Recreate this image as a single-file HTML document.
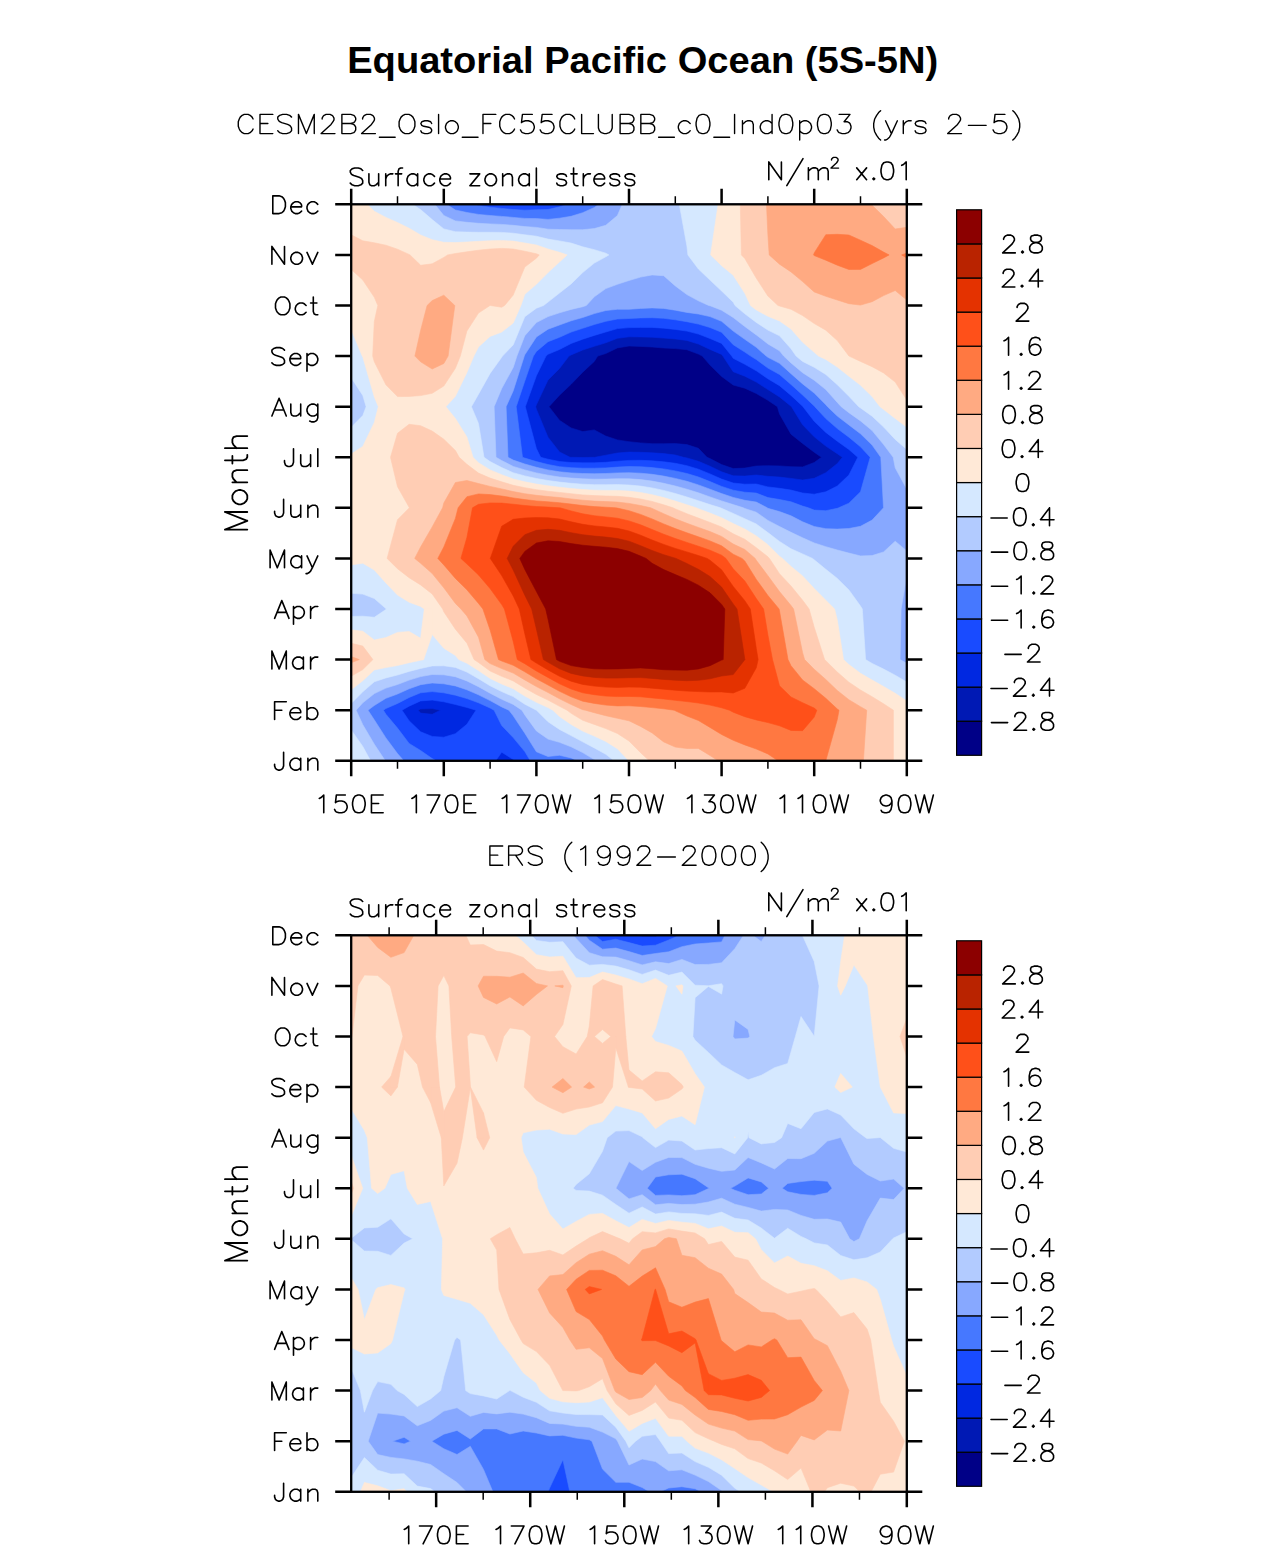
<!DOCTYPE html>
<html><head><meta charset="utf-8"><title>Equatorial Pacific Ocean (5S-5N)</title>
<style>html,body{margin:0;padding:0;background:#fff}svg{display:block}text{font-family:"Liberation Sans",sans-serif}</style></head><body>
<svg width="1285" height="1550" viewBox="0 0 1285 1550">
<rect width="1285" height="1550" fill="#fff"/>
<text x="642.7" y="72.8" text-anchor="middle" font-weight="bold" font-size="36px" textLength="591" lengthAdjust="spacingAndGlyphs">Equatorial Pacific Ocean (5S-5N)</text>
<g>
<rect x="351.20" y="204.30" width="555.60" height="556.50" fill="#000087"/>
<path d="M351.2 760.8L362.8 760.8L374.3 760.8L385.9 760.8L397.5 760.8L409.1 760.8L420.6 760.8L432.2 760.8L443.8 760.8L455.4 760.8L466.9 760.8L478.5 760.8L490.1 760.8L501.7 760.8L513.2 760.8L524.8 760.8L536.4 760.8L548.0 760.8L559.5 760.8L571.1 760.8L582.7 760.8L594.3 760.8L605.8 760.8L617.4 760.8L629.0 760.8L640.6 760.8L652.1 760.8L663.7 760.8L675.3 760.8L686.9 760.8L698.4 760.8L710.0 760.8L721.6 760.8L733.2 760.8L744.8 760.8L756.3 760.8L767.9 760.8L779.5 760.8L791.0 760.8L802.6 760.8L814.2 760.8L825.8 760.8L837.3 760.8L848.9 760.8L860.5 760.8L872.1 760.8L883.6 760.8L895.2 760.8L906.8 760.8L906.8 710.2L906.8 659.6L906.8 609.0L906.8 558.4L906.8 507.8L906.8 457.3L906.8 406.7L906.8 356.1L906.8 305.5L906.8 254.9L906.8 204.3L895.2 204.3L883.6 204.3L872.1 204.3L860.5 204.3L848.9 204.3L837.3 204.3L825.8 204.3L814.2 204.3L802.6 204.3L791.0 204.3L779.5 204.3L767.9 204.3L756.3 204.3L744.8 204.3L733.2 204.3L721.6 204.3L710.0 204.3L698.4 204.3L686.9 204.3L675.3 204.3L663.7 204.3L652.1 204.3L640.6 204.3L629.0 204.3L617.4 204.3L605.8 204.3L594.3 204.3L582.7 204.3L571.1 204.3L559.5 204.3L548.0 204.3L536.4 204.3L524.8 204.3L513.2 204.3L501.7 204.3L490.1 204.3L478.5 204.3L466.9 204.3L455.4 204.3L443.8 204.3L432.2 204.3L420.6 204.3L409.1 204.3L397.5 204.3L385.9 204.3L374.3 204.3L362.8 204.3L351.2 204.3L351.2 254.9L351.2 305.5L351.2 356.1L351.2 406.7L351.2 457.3L351.2 507.8L351.2 558.4L351.2 609.0L351.2 659.6L351.2 710.2ZM710.0 458.6L707.0 457.3L698.4 448.3L686.9 444.6L675.3 443.6L663.7 443.7L652.1 443.7L640.6 442.9L629.0 441.7L617.4 439.9L605.8 436.1L594.3 429.9L582.7 431.6L571.1 427.9L559.5 420.3L549.0 406.7L559.5 395.2L571.1 384.3L582.7 372.2L594.3 361.4L597.7 356.1L605.8 353.5L617.4 347.9L629.0 346.0L640.6 346.4L652.1 347.0L663.7 348.0L675.3 348.6L686.9 349.7L698.4 354.1L702.3 356.1L710.0 365.1L721.6 376.4L733.2 385.0L744.8 388.2L756.3 393.5L767.9 400.3L777.4 406.7L779.5 413.9L791.0 434.2L802.6 443.4L814.2 452.2L821.5 457.3L814.2 462.5L802.6 466.9L791.0 466.7L779.5 465.9L767.9 465.7L756.3 466.0L744.8 468.1L733.2 468.6L721.6 464.6Z" fill="#0019b4" stroke="#0019b4" stroke-width="0.6" stroke-linejoin="round" fill-rule="evenodd"/>
<path d="M351.2 760.8L362.8 760.8L374.3 760.8L385.9 760.8L397.5 760.8L409.1 760.8L420.6 760.8L432.2 760.8L443.8 760.8L455.4 760.8L466.9 760.8L478.5 760.8L490.1 760.8L501.7 760.8L513.2 760.8L524.8 760.8L536.4 760.8L548.0 760.8L559.5 760.8L571.1 760.8L582.7 760.8L594.3 760.8L605.8 760.8L617.4 760.8L629.0 760.8L640.6 760.8L652.1 760.8L663.7 760.8L675.3 760.8L686.9 760.8L698.4 760.8L710.0 760.8L721.6 760.8L733.2 760.8L744.8 760.8L756.3 760.8L767.9 760.8L779.5 760.8L791.0 760.8L802.6 760.8L814.2 760.8L825.8 760.8L837.3 760.8L848.9 760.8L860.5 760.8L872.1 760.8L883.6 760.8L895.2 760.8L906.8 760.8L906.8 710.2L906.8 659.6L906.8 609.0L906.8 558.4L906.8 507.8L906.8 457.3L906.8 406.7L906.8 356.1L906.8 305.5L906.8 254.9L906.8 204.3L895.2 204.3L883.6 204.3L872.1 204.3L860.5 204.3L848.9 204.3L837.3 204.3L825.8 204.3L814.2 204.3L802.6 204.3L791.0 204.3L779.5 204.3L767.9 204.3L756.3 204.3L744.8 204.3L733.2 204.3L721.6 204.3L710.0 204.3L698.4 204.3L686.9 204.3L675.3 204.3L663.7 204.3L652.1 204.3L640.6 204.3L629.0 204.3L617.4 204.3L605.8 204.3L594.3 204.3L582.7 204.3L571.1 204.3L559.5 204.3L548.0 204.3L536.4 204.3L524.8 204.3L513.2 204.3L501.7 204.3L490.1 204.3L478.5 204.3L466.9 204.3L455.4 204.3L443.8 204.3L432.2 204.3L420.6 204.3L409.1 204.3L397.5 204.3L385.9 204.3L374.3 204.3L362.8 204.3L351.2 204.3L351.2 254.9L351.2 305.5L351.2 356.1L351.2 406.7L351.2 457.3L351.2 507.8L351.2 558.4L351.2 609.0L351.2 659.6L351.2 710.2ZM420.6 713.1L418.1 710.2L420.6 709.0L432.2 708.6L440.5 710.2L432.2 714.3ZM571.1 457.3L570.1 457.3L559.5 451.9L548.0 437.2L536.4 409.2L535.7 406.7L536.4 404.8L548.0 380.0L559.5 368.5L569.0 356.1L571.1 354.9L582.7 350.0L594.3 346.3L605.8 342.8L617.4 338.3L629.0 336.8L640.6 336.9L652.1 337.2L663.7 338.1L675.3 339.0L686.9 340.4L698.5 344.1L710.0 349.4L721.6 354.4L722.9 356.1L733.2 371.7L744.8 376.2L756.3 382.1L767.9 389.6L779.5 396.9L791.0 406.2L791.5 406.7L802.6 424.8L814.2 436.8L825.8 446.1L837.3 453.7L842.4 457.3L837.3 463.6L825.8 472.7L814.2 478.3L802.6 480.0L791.0 478.4L779.5 477.1L767.9 476.3L756.3 475.0L744.8 476.1L733.2 475.8L721.6 471.8L710.0 466.2L698.4 461.3L686.9 457.9L683.5 457.3L675.3 455.0L663.7 453.6L652.1 452.8L640.6 452.3L629.0 452.1L617.4 453.0L605.8 455.2L594.9 457.3L594.3 457.3L582.7 457.5Z" fill="#0028e1" stroke="#0028e1" stroke-width="0.6" stroke-linejoin="round" fill-rule="evenodd"/>
<path d="M351.2 760.8L362.8 760.8L374.3 760.8L385.9 760.8L397.5 760.8L409.1 760.8L420.6 760.8L432.2 760.8L443.8 760.8L455.4 760.8L466.9 760.8L478.5 760.8L490.1 760.8L495.7 760.8L501.7 752.2L513.2 759.5L514.5 760.8L524.8 760.8L536.4 760.8L548.0 760.8L559.5 760.8L571.1 760.8L582.7 760.8L594.3 760.8L605.8 760.8L617.4 760.8L629.0 760.8L640.6 760.8L652.1 760.8L663.7 760.8L675.3 760.8L686.9 760.8L698.4 760.8L710.0 760.8L721.6 760.8L733.2 760.8L744.8 760.8L756.3 760.8L767.9 760.8L779.5 760.8L791.0 760.8L802.6 760.8L814.2 760.8L825.8 760.8L837.3 760.8L848.9 760.8L860.5 760.8L872.1 760.8L883.6 760.8L895.2 760.8L906.8 760.8L906.8 710.2L906.8 659.6L906.8 609.0L906.8 558.4L906.8 507.8L906.8 457.3L906.8 406.7L906.8 356.1L906.8 305.5L906.8 254.9L906.8 204.3L895.2 204.3L883.6 204.3L872.1 204.3L860.5 204.3L848.9 204.3L837.3 204.3L825.8 204.3L814.2 204.3L802.6 204.3L791.0 204.3L779.5 204.3L767.9 204.3L756.3 204.3L744.8 204.3L733.2 204.3L721.6 204.3L710.0 204.3L698.4 204.3L686.9 204.3L675.3 204.3L663.7 204.3L652.1 204.3L640.6 204.3L629.0 204.3L617.4 204.3L605.8 204.3L594.3 204.3L582.7 204.3L571.1 204.3L559.5 204.3L548.0 204.3L536.4 204.3L524.8 204.3L513.2 204.3L501.7 204.3L490.1 204.3L478.5 204.3L466.9 204.3L455.4 204.3L443.8 204.3L432.2 204.3L420.6 204.3L409.1 204.3L397.5 204.3L385.9 204.3L374.3 204.3L362.8 204.3L351.2 204.3L351.2 254.9L351.2 305.5L351.2 356.1L351.2 406.7L351.2 457.3L351.2 507.8L351.2 558.4L351.2 609.0L351.2 659.6L351.2 710.2ZM409.1 720.7L402.0 710.2L409.1 706.2L420.6 700.9L432.2 700.1L443.8 701.8L455.4 704.5L467.0 707.5L476.0 710.2L466.9 724.3L455.4 733.7L443.8 737.2L432.2 736.4L420.6 731.8ZM548.0 459.2L540.7 457.3L536.4 448.6L525.3 406.7L536.4 375.8L546.0 356.1L548.0 354.3L559.5 349.5L571.1 343.5L582.7 339.2L594.3 335.4L605.8 332.0L617.4 328.6L629.0 327.6L640.6 327.4L652.1 327.4L663.7 328.2L675.3 329.4L686.9 331.1L698.5 334.1L710.0 338.5L721.6 343.4L731.7 356.1L733.2 358.3L744.8 364.3L756.3 370.8L767.9 378.8L779.5 385.7L791.0 395.4L802.6 406.3L803.0 406.7L814.2 421.3L825.8 432.4L837.3 441.2L848.9 449.5L857.8 457.3L848.9 475.0L837.3 486.0L825.8 491.8L814.2 494.2L802.6 493.0L791.0 490.1L779.5 488.3L767.9 486.9L756.3 484.0L744.8 484.2L733.2 483.0L721.6 479.1L710.0 473.9L698.4 469.2L686.9 465.7L675.3 463.3L663.7 461.8L652.1 460.8L640.6 460.3L629.0 460.4L617.4 461.2L605.8 462.3L594.3 462.8L582.7 462.8L571.1 462.5L559.5 461.5Z" fill="#194bff" stroke="#194bff" stroke-width="0.6" stroke-linejoin="round" fill-rule="evenodd"/>
<path d="M351.2 760.8L362.8 760.8L374.3 760.8L385.9 760.8L397.5 760.8L409.1 760.8L420.6 760.8L432.2 760.8L436.3 760.8L432.2 758.6L420.6 750.5L409.1 743.4L397.5 728.1L385.9 714.2L383.4 710.2L385.9 708.5L397.5 703.5L409.1 697.5L420.6 692.8L432.2 691.6L443.8 692.8L455.4 695.2L467.0 698.6L478.5 702.8L490.1 708.0L494.1 710.2L501.7 725.5L513.2 737.6L524.8 751.6L530.3 760.8L536.4 760.8L548.0 760.8L559.5 760.8L571.1 760.8L582.7 760.8L594.3 760.8L605.8 760.8L617.4 760.8L629.0 760.8L640.6 760.8L652.1 760.8L663.7 760.8L675.3 760.8L686.9 760.8L698.4 760.8L710.0 760.8L721.6 760.8L733.2 760.8L744.8 760.8L756.3 760.8L767.9 760.8L779.5 760.8L791.0 760.8L802.6 760.8L814.2 760.8L825.8 760.8L837.3 760.8L848.9 760.8L860.5 760.8L872.1 760.8L883.6 760.8L895.2 760.8L906.8 760.8L906.8 710.2L906.8 659.6L906.8 609.0L906.8 558.4L906.8 507.8L906.8 457.3L906.8 406.7L906.8 356.1L906.8 305.5L906.8 254.9L906.8 204.3L895.2 204.3L883.6 204.3L872.1 204.3L860.5 204.3L848.9 204.3L837.3 204.3L825.8 204.3L814.2 204.3L802.6 204.3L791.0 204.3L779.5 204.3L767.9 204.3L756.3 204.3L744.8 204.3L733.2 204.3L721.6 204.3L710.0 204.3L698.4 204.3L686.9 204.3L675.3 204.3L663.7 204.3L652.1 204.3L640.6 204.3L629.0 204.3L617.4 204.3L605.8 204.3L594.3 204.3L582.7 204.3L571.1 204.3L567.5 204.3L559.6 206.8L548.0 209.5L536.4 209.8L524.8 210.2L513.2 209.5L501.7 208.4L490.1 207.2L478.5 205.4L473.6 204.3L466.9 204.3L455.4 204.3L443.8 204.3L432.2 204.3L420.6 204.3L409.1 204.3L397.5 204.3L385.9 204.3L374.3 204.3L362.8 204.3L351.2 204.3L351.2 254.9L351.2 305.5L351.2 356.1L351.2 406.7L351.2 457.3L351.2 507.8L351.2 558.4L351.2 609.0L351.2 659.6L351.2 710.2ZM814.2 510.1L808.4 507.8L802.6 506.1L791.0 501.8L779.5 499.5L767.9 497.6L756.3 493.1L744.8 492.2L733.2 490.2L721.6 486.4L710.0 481.6L698.5 477.0L686.9 473.5L675.3 470.9L663.7 468.9L652.1 467.6L640.6 466.7L629.0 466.5L617.4 467.1L605.8 467.9L594.3 468.2L582.7 468.2L571.1 467.7L559.5 466.7L548.0 464.5L536.4 461.6L524.8 458.1L522.5 457.3L516.2 406.7L524.8 381.1L533.4 356.1L536.4 351.5L548.0 341.7L559.5 337.3L571.1 332.1L582.7 328.3L594.3 324.5L605.8 321.3L617.4 319.0L629.0 318.5L640.6 317.9L652.1 317.7L663.7 318.3L675.3 319.8L686.9 321.7L698.4 324.1L710.0 327.5L721.6 332.3L733.2 344.7L744.8 352.1L750.7 356.1L756.3 359.5L767.9 368.1L779.5 374.5L791.0 384.5L802.6 395.1L814.2 406.0L814.8 406.7L825.8 418.6L837.3 428.6L848.9 437.2L860.5 446.8L870.2 457.3L860.5 491.8L848.9 503.2L838.6 507.8L837.3 508.3L825.8 510.7Z" fill="#4678ff" stroke="#4678ff" stroke-width="0.6" stroke-linejoin="round" fill-rule="evenodd"/>
<path d="M351.2 760.8L362.8 760.8L374.3 760.8L385.9 760.8L397.5 760.8L403.8 760.8L397.5 753.6L385.9 737.9L374.4 720.0L368.0 710.2L374.3 705.5L385.9 698.3L397.5 694.0L409.1 688.8L420.6 684.7L432.2 683.0L443.8 683.8L455.4 685.9L466.9 689.8L478.5 694.8L490.1 700.6L501.7 706.9L508.9 710.2L513.2 715.8L524.8 733.2L536.4 751.8L548.0 756.5L559.5 755.3L571.1 757.9L577.2 760.8L582.7 760.8L594.3 760.8L605.8 760.8L617.4 760.8L629.0 760.8L640.6 760.8L652.1 760.8L663.7 760.8L675.3 760.8L686.9 760.8L698.4 760.8L710.0 760.8L721.6 760.8L733.2 760.8L744.8 760.8L756.3 760.8L767.9 760.8L779.5 760.8L791.0 760.8L802.6 760.8L814.2 760.8L825.8 760.8L837.3 760.8L848.9 760.8L860.5 760.8L872.1 760.8L883.6 760.8L895.2 760.8L906.8 760.8L906.8 710.2L906.8 659.6L906.8 609.0L906.8 558.4L906.8 507.8L906.8 457.3L906.8 406.7L906.8 356.1L906.8 305.5L906.8 254.9L906.8 204.3L895.2 204.3L883.6 204.3L872.1 204.3L860.5 204.3L848.9 204.3L837.3 204.3L825.8 204.3L814.2 204.3L802.6 204.3L791.0 204.3L779.5 204.3L767.9 204.3L756.3 204.3L744.8 204.3L733.2 204.3L721.6 204.3L710.0 204.3L698.4 204.3L686.9 204.3L675.3 204.3L663.7 204.3L652.1 204.3L640.6 204.3L629.0 204.3L617.4 204.3L605.8 204.3L598.7 204.3L594.3 207.5L582.7 212.7L571.1 216.3L559.5 218.2L548.0 219.4L536.4 218.6L524.8 218.4L513.2 217.4L501.7 216.4L490.1 215.5L478.5 214.4L467.0 212.5L455.4 210.0L446.6 204.3L443.8 204.3L432.2 204.3L420.6 204.3L409.1 204.3L397.5 204.3L385.9 204.3L374.3 204.3L362.8 204.3L351.2 204.3L351.2 254.9L351.2 305.5L351.2 356.1L351.2 406.7L351.2 457.3L351.2 507.8L351.2 558.4L351.2 609.0L351.2 659.6L351.2 710.2ZM767.9 508.3L767.3 507.8L756.3 502.1L744.8 500.3L733.2 497.4L721.6 493.6L710.0 489.2L698.4 484.9L686.9 481.3L675.3 478.4L663.7 476.1L652.1 474.3L640.6 473.2L629.0 472.7L617.4 472.9L605.8 473.5L594.3 473.7L582.7 473.5L571.1 472.9L559.5 471.8L548.0 469.9L536.4 467.3L524.8 464.0L513.2 460.1L508.0 457.3L506.1 406.7L513.2 390.9L524.3 356.1L524.8 354.8L536.4 337.0L548.0 329.2L559.5 325.0L571.1 320.8L582.7 317.5L594.3 313.6L605.8 310.5L617.4 309.3L629.0 309.3L640.6 308.4L652.1 307.9L663.7 308.4L675.3 310.2L686.9 312.4L698.4 314.0L710.0 316.6L721.6 321.3L733.2 331.1L744.8 339.3L756.3 347.3L766.2 356.1L767.9 357.3L779.5 363.3L791.0 373.7L802.6 383.9L814.2 393.1L825.8 404.7L827.5 406.7L837.3 416.1L848.9 424.9L860.5 433.8L872.1 445.1L880.8 457.3L883.5 507.8L872.1 520.1L860.5 526.3L848.9 528.5L837.3 529.1L825.8 528.7L814.2 526.5L802.6 521.8L791.0 515.8L779.5 511.6Z" fill="#87a8ff" stroke="#87a8ff" stroke-width="0.6" stroke-linejoin="round" fill-rule="evenodd"/>
<path d="M351.2 760.8L362.8 760.8L374.3 760.8L385.3 760.8L374.3 744.2L362.8 724.7L356.1 710.2L362.8 702.8L374.4 693.6L385.9 688.1L397.5 684.5L409.1 680.1L420.6 676.6L432.2 674.5L443.8 674.8L455.4 676.7L466.9 680.9L478.5 686.7L490.1 693.2L501.7 699.3L513.2 704.4L521.9 710.2L524.8 714.9L536.4 730.9L548.0 739.1L559.5 742.3L571.1 746.8L582.7 752.6L594.3 759.6L596.2 760.8L605.8 760.8L617.4 760.8L629.0 760.8L640.6 760.8L652.1 760.8L663.7 760.8L675.3 760.8L686.9 760.8L698.4 760.8L710.0 760.8L721.6 760.8L733.2 760.8L744.8 760.8L756.3 760.8L767.9 760.8L779.5 760.8L791.0 760.8L802.6 760.8L814.2 760.8L825.8 760.8L837.3 760.8L848.9 760.8L860.5 760.8L872.1 760.8L883.6 760.8L895.2 760.8L906.8 760.8L906.8 710.2L906.8 663.3L900.0 659.6L901.1 609.0L906.8 575.9L906.8 558.4L906.8 550.9L895.2 541.2L883.6 551.9L872.1 555.6L860.5 555.9L848.9 553.1L837.3 550.0L825.8 546.7L814.2 542.9L802.6 537.8L791.0 532.3L779.5 526.5L767.9 520.4L756.3 512.2L744.8 508.5L743.4 507.8L733.2 504.6L721.6 500.9L710.0 496.9L698.4 492.8L686.9 489.2L675.3 486.0L663.7 483.3L652.1 481.1L640.6 479.6L629.0 478.8L617.4 478.7L605.8 479.1L594.3 479.2L582.7 478.8L571.1 478.1L559.5 477.0L548.0 475.2L536.4 472.9L524.8 469.9L513.2 466.4L501.7 460.5L496.0 457.3L494.1 406.7L501.7 388.5L513.2 367.5L516.9 356.1L524.8 335.7L536.4 322.6L548.0 316.6L559.5 312.8L571.1 309.4L582.7 306.7L586.3 305.5L594.3 296.8L605.8 288.6L617.4 284.3L629.0 280.5L640.6 277.1L652.1 274.9L663.7 275.7L675.3 285.9L686.9 294.6L698.4 300.8L708.7 305.5L710.0 305.7L721.6 310.2L733.2 317.5L744.8 326.5L756.3 334.9L767.9 343.9L779.5 350.8L783.7 356.1L791.0 362.9L802.6 372.7L814.2 380.2L825.8 389.6L837.3 402.4L841.2 406.7L848.9 412.7L860.5 420.9L872.1 430.6L883.6 444.5L893.2 457.3L895.2 467.8L906.8 489.2L906.8 457.3L906.8 406.7L906.8 356.1L906.8 305.5L906.8 254.9L906.8 204.3L895.2 204.3L883.6 204.3L872.1 204.3L860.5 204.3L848.9 204.3L837.3 204.3L825.8 204.3L814.2 204.3L802.6 204.3L791.0 204.3L779.5 204.3L767.9 204.3L756.3 204.3L744.8 204.3L733.2 204.3L721.6 204.3L710.0 204.3L698.4 204.3L686.9 204.3L675.3 204.3L663.7 204.3L652.1 204.3L640.6 204.3L629.0 204.3L622.3 204.3L617.4 215.6L605.8 225.3L594.3 228.6L582.7 229.7L571.1 229.7L559.5 229.5L548.0 229.2L536.4 227.4L524.8 226.6L513.2 225.3L501.7 224.4L490.1 223.9L478.5 223.3L466.9 222.3L455.4 220.9L443.8 215.5L434.8 204.3L432.2 204.3L420.6 204.3L409.1 204.3L397.5 204.3L385.9 204.3L374.3 204.3L362.8 204.3L351.2 204.3L351.2 254.9L351.2 305.5L351.2 356.1L351.2 406.7L351.2 457.3L351.2 507.8L351.2 558.4L351.2 609.0L351.2 659.6L351.2 710.2Z" fill="#b2cbff" stroke="#b2cbff" stroke-width="0.6" stroke-linejoin="round" fill-rule="evenodd"/>
<path d="M351.2 760.8L362.8 760.8L370.6 760.8L362.8 746.5L351.2 729.9ZM536.5 710.2L548.0 721.7L559.5 729.4L571.1 735.6L582.7 741.8L594.3 747.9L605.8 754.3L614.1 760.8L617.4 760.8L629.0 760.8L640.6 760.8L652.1 760.8L663.7 760.8L675.3 760.8L686.9 760.8L698.4 760.8L710.0 760.8L721.6 760.8L733.2 760.8L744.8 760.8L756.3 760.8L767.9 760.8L779.5 760.8L791.0 760.8L802.6 760.8L814.2 760.8L825.8 760.8L837.3 760.8L848.9 760.8L860.5 760.8L872.1 760.8L883.6 760.8L895.2 760.8L906.8 760.8L906.8 710.2L906.8 682.1L895.2 675.2L883.6 669.1L872.1 663.4L865.6 659.6L862.3 609.0L860.5 606.1L848.9 589.9L837.3 578.4L825.8 569.3L814.2 559.8L812.5 558.4L802.6 553.9L791.0 548.8L779.5 541.4L767.9 532.6L756.3 524.0L744.8 518.7L733.2 513.4L721.6 508.3L720.5 507.8L710.0 504.6L698.4 500.7L686.9 497.0L675.3 493.5L663.7 490.4L652.1 487.9L640.6 486.1L629.0 485.0L617.4 484.6L605.8 484.7L594.3 484.7L582.7 484.2L571.1 483.3L559.5 482.1L548.0 480.5L536.4 478.5L524.8 475.9L513.2 472.7L501.7 467.6L490.1 461.6L484.0 457.3L478.5 423.5L471.4 406.7L478.5 394.2L490.1 373.4L501.7 357.3L502.5 356.1L513.2 344.9L524.8 316.7L536.4 308.2L543.6 305.5L548.0 302.1L559.5 293.0L571.1 283.9L582.7 272.6L594.3 263.1L605.8 256.8L608.9 254.9L605.8 253.2L594.3 249.7L582.7 246.8L571.1 243.1L559.5 240.9L548.0 239.1L536.4 236.2L524.8 234.8L513.2 233.2L501.7 232.4L490.1 232.3L478.5 232.3L466.9 232.1L455.4 231.7L443.8 228.9L432.2 219.6L420.6 209.6L412.6 204.3L409.1 204.3L397.5 204.3L385.9 204.3L374.3 204.3L362.8 204.3L351.2 204.3L351.2 254.9L351.2 305.5L351.2 356.1L351.2 377.7L362.8 395.5L366.1 406.7L362.8 415.6L351.2 427.3L351.2 457.3L351.2 507.8L351.2 558.4L351.2 593.3L362.8 594.1L374.3 598.5L385.9 608.6L386.3 609.0L385.9 609.5L374.3 617.3L362.8 616.2L351.2 616.5L351.2 659.6L351.2 703.4L362.8 691.8L374.3 681.8L385.9 677.9L397.5 675.0L409.1 671.4L420.6 668.5L432.2 665.9L443.8 665.8L455.4 667.4L466.9 672.1L478.5 678.7L490.1 685.8L501.7 691.6L513.2 696.6L524.8 704.2L536.4 710.2ZM858.7 406.7L860.5 407.9L872.1 416.2L883.6 427.0L895.2 439.4L906.8 449.4L906.8 406.7L906.8 356.1L906.8 305.5L906.8 254.9L906.8 204.3L895.2 204.3L883.6 204.3L872.1 204.3L860.5 204.3L848.9 204.3L837.3 204.3L825.8 204.3L814.2 204.3L802.6 204.3L791.0 204.3L779.5 204.3L767.9 204.3L756.3 204.3L744.8 204.3L733.2 204.3L721.6 204.3L710.0 204.3L698.4 204.3L686.9 204.3L679.3 204.3L686.9 246.0L687.9 254.9L698.4 269.0L710.0 280.1L721.6 291.0L733.2 302.2L735.0 305.5L744.8 313.8L756.3 322.4L767.9 330.1L779.5 335.8L791.0 348.7L796.1 356.1L802.6 361.4L814.2 367.3L825.8 374.5L837.3 384.7L848.9 396.3Z" fill="#d5e8ff" stroke="#d5e8ff" stroke-width="0.6" stroke-linejoin="round" fill-rule="evenodd"/>
<path d="M552.8 710.2L559.5 716.5L571.1 724.4L582.7 731.1L594.3 736.1L605.8 741.4L617.4 748.7L628.8 760.8L629.0 760.8L640.6 760.8L652.1 760.8L663.7 760.8L675.3 760.8L686.9 760.8L698.4 760.8L710.0 760.8L721.6 760.8L733.2 760.8L744.8 760.8L756.3 760.8L767.9 760.8L779.5 760.8L791.0 760.8L802.6 760.8L814.2 760.8L825.8 760.8L837.3 760.8L848.9 760.8L860.5 760.8L872.1 760.8L883.6 760.8L895.2 760.8L906.8 760.8L906.8 710.2L906.8 700.9L895.2 693.3L883.6 686.5L872.1 680.0L860.5 673.3L848.9 664.6L843.5 659.6L837.3 620.0L834.6 609.0L825.8 600.2L814.2 588.5L802.6 575.9L791.1 566.5L782.5 558.4L779.5 556.3L767.9 544.7L756.3 535.9L744.8 529.0L733.2 523.6L721.6 517.7L710.0 513.1L698.4 508.7L696.2 507.8L686.9 504.8L675.3 501.1L663.7 497.6L652.1 494.7L640.6 492.5L629.0 491.1L617.4 490.4L605.8 490.4L594.3 490.2L582.7 489.5L571.1 488.5L559.5 487.2L548.0 485.8L536.4 484.1L524.8 481.8L513.2 479.0L501.7 474.7L490.1 469.9L478.5 462.7L473.0 457.3L466.9 437.0L455.4 418.5L445.9 406.7L455.4 396.3L466.9 372.5L473.9 356.1L478.5 346.9L490.1 336.4L501.7 332.1L513.2 323.1L520.9 305.5L524.8 294.3L536.4 284.3L548.0 272.6L559.5 262.0L567.2 254.9L559.5 252.3L548.0 249.0L536.4 245.0L524.8 243.0L513.2 241.1L501.7 240.4L490.1 240.7L478.5 241.3L466.9 242.0L455.4 242.6L443.8 242.3L432.2 239.7L420.6 235.0L409.1 228.2L397.5 222.5L385.9 217.4L374.3 211.3L367.2 204.3L362.8 204.3L351.2 204.3L351.2 254.9L351.2 305.5L351.2 329.4L362.2 356.1L362.8 356.9L374.3 396.9L378.3 406.7L374.3 422.4L362.8 446.4L351.2 454.0L351.2 457.3L351.2 507.8L351.2 558.4L351.2 564.9L362.8 563.2L374.3 570.0L385.9 582.9L397.5 595.1L409.1 602.2L420.6 606.4L424.3 609.0L432.2 634.5L443.8 648.2L455.4 655.4L458.7 659.6L466.9 663.2L478.5 670.6L490.1 678.4L501.7 684.0L513.2 688.7L524.8 696.1L536.4 702.3L548.0 707.6ZM351.2 659.6L351.2 689.8L362.8 680.7L374.3 669.9L385.9 667.6L397.5 665.5L409.1 662.7L420.6 660.3L423.6 659.6L420.6 638.2L409.1 631.5L397.5 632.4L385.9 637.6L374.3 640.0L362.8 631.2L351.2 629.8ZM880.0 406.7L883.6 409.4L895.2 418.4L906.8 427.2L906.8 406.7L906.8 356.1L906.8 305.5L906.8 254.9L906.8 204.3L895.2 204.3L883.6 204.3L872.1 204.3L860.5 204.3L848.9 204.3L837.3 204.3L825.8 204.3L814.2 204.3L802.6 204.3L791.0 204.3L779.5 204.3L767.9 204.3L756.3 204.3L744.8 204.3L733.2 204.3L721.6 204.3L718.1 204.3L710.6 254.9L721.6 265.7L733.2 275.2L744.8 293.3L750.5 305.5L756.3 309.9L767.9 316.3L779.5 320.9L791.0 329.0L802.6 342.2L814.2 352.3L818.5 356.1L825.8 359.4L837.3 367.1L848.9 376.2L860.5 385.2L872.1 396.5Z" fill="#ffe9d7" stroke="#ffe9d7" stroke-width="0.6" stroke-linejoin="round" fill-rule="evenodd"/>
<path d="M420.6 659.6L423.6 659.6L432.2 634.5L432.2 609.0L424.3 609.0L420.6 638.2Z" fill="#ffe9d7" stroke="#ffe9d7" stroke-width="0.6" stroke-linejoin="round"/>
<path d="M567.1 710.2L571.1 713.3L582.7 720.3L594.3 724.4L605.8 728.6L617.4 733.5L629.0 741.0L640.6 752.7L649.3 760.8L652.1 760.8L663.7 760.8L675.3 760.8L686.9 760.8L698.4 760.8L710.0 760.8L721.6 760.8L733.2 760.8L744.8 760.8L756.3 760.8L767.9 760.8L779.5 760.8L791.0 760.8L802.6 760.8L814.2 760.8L825.8 760.8L837.3 760.8L848.9 760.8L860.5 760.8L872.1 760.8L883.6 760.8L893.4 760.8L893.4 710.2L883.6 703.8L872.1 696.7L860.5 690.0L848.9 682.2L837.3 672.1L825.8 660.7L824.6 659.6L814.2 627.2L809.1 609.0L802.6 600.2L791.0 586.0L779.5 573.7L769.4 558.4L767.9 556.8L756.3 547.7L744.8 539.3L733.2 533.8L721.6 527.0L710.0 522.4L698.4 518.1L686.9 513.7L675.3 508.9L673.0 507.8L663.7 504.8L652.1 501.4L640.6 499.0L629.0 497.3L617.4 496.3L605.8 496.0L594.3 495.6L582.7 494.9L571.1 493.7L559.5 492.4L548.0 491.2L536.4 489.7L524.8 487.7L513.2 485.3L501.7 481.8L490.1 478.1L478.5 473.1L466.9 464.3L459.2 457.3L455.4 450.5L443.8 439.2L432.2 431.1L420.6 425.7L409.1 424.3L397.5 433.3L390.5 457.3L397.5 486.7L409.1 507.3L409.3 507.8L409.1 508.1L397.5 519.7L387.1 558.4L397.5 568.7L409.1 577.7L420.6 584.9L432.2 594.0L442.7 609.0L443.8 611.8L455.4 629.2L467.0 643.3L474.1 659.6L478.5 662.5L490.1 671.0L501.7 676.3L513.2 680.9L524.8 688.0L536.4 694.5L548.0 700.1L559.5 706.3ZM351.2 659.6L351.2 676.2L362.8 669.6L372.9 659.6L362.8 646.1L351.2 643.2ZM372.7 356.1L374.3 361.7L385.9 384.8L397.5 396.6L409.1 396.4L420.6 395.6L432.2 393.3L443.8 386.0L455.4 368.3L460.3 356.1L466.9 331.0L478.5 313.1L490.0 305.5L490.1 305.4L490.3 305.5L501.7 307.2L504.6 305.5L513.2 295.1L524.8 267.1L536.4 258.2L539.2 254.9L536.4 253.8L524.8 251.2L513.2 249.0L501.7 248.4L490.1 249.0L478.5 250.2L466.9 251.8L455.4 253.5L447.7 254.9L443.8 257.4L432.2 263.8L420.7 265.3L410.0 254.9L409.1 254.4L397.5 249.2L385.9 245.2L374.3 242.8L362.8 240.8L351.2 234.8L351.2 254.9L351.2 269.4L362.8 280.0L374.3 297.3L377.8 305.5L374.3 321.5ZM849.0 356.1L860.5 361.4L872.1 366.7L883.6 373.0L895.2 382.1L906.8 400.1L906.8 356.1L906.8 305.5L906.8 254.9L906.8 204.3L895.2 204.3L883.6 204.3L872.1 204.3L860.5 204.3L848.9 204.3L837.3 204.3L825.8 204.3L814.2 204.3L802.6 204.3L791.0 204.3L779.5 204.3L767.9 204.3L756.3 204.3L744.8 204.3L740.3 204.3L741.4 254.9L744.8 258.5L756.3 278.2L767.9 296.1L778.0 305.5L779.5 306.0L791.0 309.3L802.6 315.6L814.2 323.5L825.8 330.2L837.3 340.6L848.9 356.0Z" fill="#ffcdb4" stroke="#ffcdb4" stroke-width="0.6" stroke-linejoin="round" fill-rule="evenodd"/>
<path d="M585.3 710.2L594.3 712.7L605.8 715.7L617.4 718.3L629.0 720.8L640.6 726.4L652.1 732.9L663.7 741.9L675.3 747.1L686.9 748.5L698.4 748.4L710.0 755.5L718.2 760.8L721.6 760.8L733.2 760.8L744.8 760.8L756.3 760.8L767.9 760.8L779.5 760.8L791.0 760.8L802.6 760.8L814.2 760.8L825.8 760.8L837.3 760.8L848.9 760.8L860.5 760.8L863.4 760.8L866.7 710.2L860.5 706.7L848.9 699.7L837.3 690.5L825.8 679.5L814.2 669.2L804.6 659.6L802.6 652.7L793.6 609.0L791.0 605.5L779.5 591.6L767.9 575.7L756.3 560.3L755.2 558.4L744.8 549.5L733.2 544.0L721.6 536.4L710.0 531.6L698.4 527.4L686.9 523.3L675.3 518.8L663.7 513.7L652.1 508.4L650.7 507.8L640.6 505.5L629.0 503.4L617.4 502.1L605.8 501.6L594.3 501.1L582.7 500.2L571.1 498.9L559.5 497.5L548.0 496.5L536.4 495.3L524.8 493.7L513.2 491.6L501.7 488.9L490.1 486.4L478.5 483.5L466.9 480.5L455.4 482.5L443.8 503.0L442.6 507.8L432.2 526.9L420.6 547.0L414.7 558.4L420.6 563.3L432.2 573.5L443.8 587.8L455.4 603.4L460.9 609.0L466.9 615.9L478.5 637.2L484.8 659.6L490.1 663.6L501.7 668.6L513.2 673.1L524.8 679.9L536.4 686.6L548.0 692.5L559.5 698.8L571.1 704.5L582.7 709.7ZM351.2 659.6L351.2 662.7L359.3 659.6L351.2 656.6ZM414.9 356.1L420.6 361.8L432.2 369.0L443.8 363.5L448.1 356.1L454.8 305.5L443.8 295.2L432.2 300.6L427.1 305.5L420.6 330.5ZM769.2 254.9L779.5 264.2L791.0 271.9L802.6 281.6L814.2 291.9L825.8 296.3L837.3 300.0L848.9 303.7L860.5 305.1L872.1 301.7L883.6 295.6L895.2 290.5L906.8 300.0L906.8 254.9L906.8 227.3L895.2 229.0L883.6 216.5L872.1 205.2L863.1 204.3L860.5 204.3L848.9 204.3L837.3 204.3L825.8 204.3L814.2 204.3L802.6 204.3L791.0 204.3L779.5 204.3L767.9 204.3L766.5 204.3L767.9 234.8Z" fill="#ffaa82" stroke="#ffaa82" stroke-width="0.6" stroke-linejoin="round" fill-rule="evenodd"/>
<path d="M674.2 710.2L675.3 710.8L686.9 716.0L698.4 720.5L710.0 727.4L721.6 734.5L733.2 740.3L744.8 744.9L756.3 749.0L767.9 753.9L778.0 760.8L779.5 760.8L791.0 760.8L802.6 760.8L814.2 760.8L825.7 760.8L825.8 760.7L837.3 719.6L839.0 710.2L837.3 709.0L825.8 698.3L814.2 688.7L802.6 680.0L791.0 665.7L788.0 659.6L779.5 611.1L779.1 609.0L767.9 595.5L756.3 579.4L744.8 561.0L742.0 558.4L733.2 554.2L721.6 545.8L710.0 540.9L698.4 536.8L686.9 532.8L675.3 528.6L663.7 523.9L652.1 518.9L640.6 514.4L629.0 510.7L617.4 508.1L615.6 507.8L605.8 507.2L594.3 506.6L582.7 505.5L571.1 504.1L559.5 502.7L548.0 501.8L536.4 500.9L524.8 499.6L513.2 497.9L501.7 496.0L490.1 494.6L478.5 493.9L466.9 496.7L458.1 507.8L455.4 518.4L443.8 546.9L437.8 558.4L443.8 564.9L455.4 578.4L466.9 589.8L478.5 603.4L482.9 609.0L490.1 630.0L498.5 659.6L501.7 661.0L513.2 665.3L524.8 671.8L536.4 678.8L548.0 685.0L559.5 691.3L571.1 696.8L582.7 701.2L594.3 703.4L605.8 705.1L617.4 705.9L629.0 705.8L640.6 706.5L652.1 707.6L663.7 708.8ZM813.5 254.9L814.2 255.6L825.8 260.2L837.3 265.2L848.9 269.5L860.5 269.4L872.1 263.6L883.6 257.9L889.1 254.9L883.6 252.1L872.1 245.6L860.5 240.2L848.9 235.0L837.3 234.3L825.8 234.7L814.2 252.9ZM901.6 254.9L906.8 257.9L906.8 254.9L906.8 253.1Z" fill="#ff7841" stroke="#ff7841" stroke-width="0.6" stroke-linejoin="round" fill-rule="evenodd"/>
<path d="M729.5 710.2L733.2 712.2L744.8 716.7L756.3 719.9L767.9 722.6L779.5 725.8L791.0 730.4L802.6 730.7L814.2 717.1L816.8 710.2L814.2 708.1L802.6 702.7L791.0 697.0L779.5 685.8L772.5 659.6L767.9 635.0L763.6 609.0L756.3 598.6L744.8 580.9L733.2 568.8L725.9 558.4L721.6 555.2L710.0 550.2L698.4 546.2L686.9 542.4L675.3 538.5L663.7 534.2L652.1 529.5L640.6 524.8L629.0 520.9L617.4 518.2L605.8 516.9L594.3 515.7L582.7 513.8L571.1 510.9L560.0 507.8L559.5 507.8L548.0 507.1L536.4 506.5L524.8 505.5L513.2 504.2L501.7 503.1L490.1 502.9L478.5 504.3L472.5 507.8L466.9 537.5L460.9 558.4L467.0 564.1L478.5 574.9L490.1 588.6L501.7 604.6L504.4 609.0L513.2 641.4L517.3 659.6L524.8 663.7L536.4 671.0L548.0 677.4L559.5 683.8L571.1 689.0L582.7 692.8L594.3 694.7L605.8 696.1L617.4 696.6L629.0 696.4L640.6 696.8L652.1 697.9L663.7 699.0L675.3 700.3L686.9 701.6L698.4 703.0L710.0 705.1L721.6 707.8Z" fill="#ff5019" stroke="#ff5019" stroke-width="0.6" stroke-linejoin="round" fill-rule="evenodd"/>
<path d="M530.9 659.6L536.4 663.1L548.0 669.9L559.5 676.3L571.1 681.2L582.7 684.4L594.3 686.1L605.8 687.1L617.4 687.4L629.0 687.1L640.6 687.2L652.1 688.2L663.7 689.2L675.3 690.2L686.9 691.1L698.4 691.6L710.0 692.0L721.6 691.9L733.2 693.0L744.8 688.3L756.3 667.7L758.1 659.6L756.3 648.6L750.3 609.0L744.8 600.7L733.2 586.4L721.6 569.8L710.0 560.2L707.1 558.4L698.4 555.5L686.9 551.9L675.3 548.4L663.7 544.4L652.1 540.0L640.6 535.2L629.0 531.0L617.4 528.3L605.8 527.0L594.3 525.9L582.7 524.3L571.1 521.8L559.5 519.0L548.0 517.8L536.4 517.6L524.8 518.0L513.2 519.3L501.7 526.2L490.3 558.4L501.7 575.6L513.2 595.9L519.3 609.0L524.8 633.7Z" fill="#e43200" stroke="#e43200" stroke-width="0.6" stroke-linejoin="round" fill-rule="evenodd"/>
<path d="M543.4 659.6L548.0 662.3L559.5 668.8L571.1 673.4L582.7 675.9L594.3 677.4L605.8 678.1L617.4 678.1L629.0 677.7L640.6 677.6L652.1 678.4L663.7 679.4L675.3 680.2L686.9 680.7L698.4 680.3L710.0 678.8L721.6 676.0L733.2 674.6L744.8 659.7L744.8 659.6L744.8 659.3L737.0 609.0L733.2 603.9L721.6 587.1L710.0 576.5L698.4 569.3L686.9 563.5L676.0 558.4L675.3 558.2L663.7 554.7L652.1 550.5L640.6 545.7L629.0 541.2L617.4 538.5L605.8 537.1L594.3 536.1L582.7 534.7L571.1 532.7L559.5 530.3L548.0 529.3L536.4 530.3L524.8 534.7L513.2 546.3L507.2 558.4L513.2 570.0L524.8 595.2L531.7 609.0L536.4 629.0Z" fill="#b92300" stroke="#b92300" stroke-width="0.6" stroke-linejoin="round" fill-rule="evenodd"/>
<path d="M556.5 659.6L559.5 661.3L571.1 665.6L582.7 667.5L594.3 668.8L605.8 669.1L617.4 668.9L629.0 668.4L640.6 667.9L652.1 668.7L663.7 669.7L675.3 670.1L686.9 670.2L698.5 668.9L710.0 665.7L721.6 660.1L723.2 659.6L724.8 609.0L721.6 604.4L710.0 592.8L698.4 585.2L686.9 579.4L675.3 574.6L663.7 569.6L652.1 563.3L646.1 558.4L640.6 556.1L629.0 551.3L617.4 548.6L605.8 547.2L594.3 546.3L582.7 545.2L571.1 543.6L559.5 541.5L548.0 540.8L536.4 543.0L524.8 551.4L519.8 558.4L524.8 569.4L536.4 591.5L545.7 609.0L548.0 619.0Z" fill="#8c0000" stroke="#8c0000" stroke-width="0.6" stroke-linejoin="round" fill-rule="evenodd"/>
</g>
<rect x="351.20" y="204.30" width="555.60" height="556.50" fill="none" stroke="#000" stroke-width="2.30"/>
<path transform="translate(317.80 770.10)" d="M-34.20 -17.75L-34.20 -4.22L-35.10 -1.69L-36.00 -0.84L-37.80 0.00L-39.60 0.00L-41.40 -0.84L-42.30 -1.69L-43.20 -4.22L-43.20 -5.92M-17.10 -11.83L-17.10 0.00M-17.10 -9.29L-18.90 -10.98L-20.70 -11.83L-23.40 -11.83L-25.20 -10.98L-27.00 -9.29L-27.90 -6.76L-27.90 -5.07L-27.00 -2.54L-25.20 -0.84L-23.40 0.00L-20.70 0.00L-18.90 -0.84L-17.10 -2.54M-9.90 -11.83L-9.90 0.00M-9.90 -8.45L-7.20 -10.98L-5.40 -11.83L-2.70 -11.83L-0.90 -10.98L0.00 -8.45L0.00 0.00" fill="none" stroke="#000" stroke-width="1.60" stroke-linecap="round" stroke-linejoin="round"/>
<path transform="translate(317.80 719.51)" d="M-43.20 -17.75L-43.20 0.00M-43.20 -17.75L-31.50 -17.75M-43.20 -9.29L-36.00 -9.29M-27.90 -6.76L-17.10 -6.76L-17.10 -8.45L-18.00 -10.14L-18.90 -10.98L-20.70 -11.83L-23.40 -11.83L-25.20 -10.98L-27.00 -9.29L-27.90 -6.76L-27.90 -5.07L-27.00 -2.54L-25.20 -0.84L-23.40 0.00L-20.70 0.00L-18.90 -0.84L-17.10 -2.54M-10.80 -17.75L-10.80 0.00M-10.80 -9.29L-9.00 -10.98L-7.20 -11.83L-4.50 -11.83L-2.70 -10.98L-0.90 -9.29L0.00 -6.76L0.00 -5.07L-0.90 -2.54L-2.70 -0.84L-4.50 0.00L-7.20 0.00L-9.00 -0.84L-10.80 -2.54" fill="none" stroke="#000" stroke-width="1.60" stroke-linecap="round" stroke-linejoin="round"/>
<path transform="translate(317.80 668.92)" d="M-45.90 -17.75L-45.90 0.00M-45.90 -17.75L-38.70 0.00M-31.50 -17.75L-38.70 0.00M-31.50 -17.75L-31.50 0.00M-14.40 -11.83L-14.40 0.00M-14.40 -9.29L-16.20 -10.98L-18.00 -11.83L-20.70 -11.83L-22.50 -10.98L-24.30 -9.29L-25.20 -6.76L-25.20 -5.07L-24.30 -2.54L-22.50 -0.84L-20.70 0.00L-18.00 0.00L-16.20 -0.84L-14.40 -2.54M-7.20 -11.83L-7.20 0.00M-7.20 -6.76L-6.30 -9.29L-4.50 -10.98L-2.70 -11.83L0.00 -11.83" fill="none" stroke="#000" stroke-width="1.60" stroke-linecap="round" stroke-linejoin="round"/>
<path transform="translate(317.80 618.33)" d="M-36.00 -17.75L-43.20 0.00M-36.00 -17.75L-28.80 0.00M-40.50 -5.92L-31.50 -5.92M-24.30 -11.83L-24.30 5.92M-24.30 -9.29L-22.50 -10.98L-20.70 -11.83L-18.00 -11.83L-16.20 -10.98L-14.40 -9.29L-13.50 -6.76L-13.50 -5.07L-14.40 -2.54L-16.20 -0.84L-18.00 0.00L-20.70 0.00L-22.50 -0.84L-24.30 -2.54M-7.20 -11.83L-7.20 0.00M-7.20 -6.76L-6.30 -9.29L-4.50 -10.98L-2.70 -11.83L0.00 -11.83" fill="none" stroke="#000" stroke-width="1.60" stroke-linecap="round" stroke-linejoin="round"/>
<path transform="translate(317.80 567.74)" d="M-47.70 -17.75L-47.70 0.00M-47.70 -17.75L-40.50 0.00M-33.30 -17.75L-40.50 0.00M-33.30 -17.75L-33.30 0.00M-16.20 -11.83L-16.20 0.00M-16.20 -9.29L-18.00 -10.98L-19.80 -11.83L-22.50 -11.83L-24.30 -10.98L-26.10 -9.29L-27.00 -6.76L-27.00 -5.07L-26.10 -2.54L-24.30 -0.84L-22.50 0.00L-19.80 0.00L-18.00 -0.84L-16.20 -2.54M-10.80 -11.83L-5.40 0.00M0.00 -11.83L-5.40 0.00L-7.20 3.38L-9.00 5.07L-10.80 5.92L-11.70 5.92" fill="none" stroke="#000" stroke-width="1.60" stroke-linecap="round" stroke-linejoin="round"/>
<path transform="translate(317.80 517.15)" d="M-34.20 -17.75L-34.20 -4.22L-35.10 -1.69L-36.00 -0.84L-37.80 0.00L-39.60 0.00L-41.40 -0.84L-42.30 -1.69L-43.20 -4.22L-43.20 -5.92M-27.00 -11.83L-27.00 -3.38L-26.10 -0.84L-24.30 0.00L-21.60 0.00L-19.80 -0.84L-17.10 -3.38M-17.10 -11.83L-17.10 0.00M-9.90 -11.83L-9.90 0.00M-9.90 -8.45L-7.20 -10.98L-5.40 -11.83L-2.70 -11.83L-0.90 -10.98L0.00 -8.45L0.00 0.00" fill="none" stroke="#000" stroke-width="1.60" stroke-linecap="round" stroke-linejoin="round"/>
<path transform="translate(317.80 466.55)" d="M-24.30 -17.75L-24.30 -4.22L-25.20 -1.69L-26.10 -0.84L-27.90 0.00L-29.70 0.00L-31.50 -0.84L-32.40 -1.69L-33.30 -4.22L-33.30 -5.92M-17.10 -11.83L-17.10 -3.38L-16.20 -0.84L-14.40 0.00L-11.70 0.00L-9.90 -0.84L-7.20 -3.38M-7.20 -11.83L-7.20 0.00M0.00 -17.75L0.00 0.00" fill="none" stroke="#000" stroke-width="1.60" stroke-linecap="round" stroke-linejoin="round"/>
<path transform="translate(317.80 415.96)" d="M-38.70 -17.75L-45.90 0.00M-38.70 -17.75L-31.50 0.00M-43.20 -5.92L-34.20 -5.92M-27.00 -11.83L-27.00 -3.38L-26.10 -0.84L-24.30 0.00L-21.60 0.00L-19.80 -0.84L-17.10 -3.38M-17.10 -11.83L-17.10 0.00M0.00 -11.83L0.00 1.69L-0.90 4.22L-1.80 5.07L-3.60 5.92L-6.30 5.92L-8.10 5.07M0.00 -9.29L-1.80 -10.98L-3.60 -11.83L-6.30 -11.83L-8.10 -10.98L-9.90 -9.29L-10.80 -6.76L-10.80 -5.07L-9.90 -2.54L-8.10 -0.84L-6.30 0.00L-3.60 0.00L-1.80 -0.84L0.00 -2.54" fill="none" stroke="#000" stroke-width="1.60" stroke-linecap="round" stroke-linejoin="round"/>
<path transform="translate(317.80 365.37)" d="M-33.30 -15.21L-35.10 -16.90L-37.80 -17.75L-41.40 -17.75L-44.10 -16.90L-45.90 -15.21L-45.90 -13.52L-45.00 -11.83L-44.10 -10.98L-42.30 -10.14L-36.90 -8.45L-35.10 -7.60L-34.20 -6.76L-33.30 -5.07L-33.30 -2.54L-35.10 -0.84L-37.80 0.00L-41.40 0.00L-44.10 -0.84L-45.90 -2.54M-27.90 -6.76L-17.10 -6.76L-17.10 -8.45L-18.00 -10.14L-18.90 -10.98L-20.70 -11.83L-23.40 -11.83L-25.20 -10.98L-27.00 -9.29L-27.90 -6.76L-27.90 -5.07L-27.00 -2.54L-25.20 -0.84L-23.40 0.00L-20.70 0.00L-18.90 -0.84L-17.10 -2.54M-10.80 -11.83L-10.80 5.92M-10.80 -9.29L-9.00 -10.98L-7.20 -11.83L-4.50 -11.83L-2.70 -10.98L-0.90 -9.29L-0.00 -6.76L-0.00 -5.07L-0.90 -2.54L-2.70 -0.84L-4.50 0.00L-7.20 0.00L-9.00 -0.84L-10.80 -2.54" fill="none" stroke="#000" stroke-width="1.60" stroke-linecap="round" stroke-linejoin="round"/>
<path transform="translate(317.80 314.78)" d="M-36.90 -17.75L-38.70 -16.90L-40.50 -15.21L-41.40 -13.52L-42.30 -10.98L-42.30 -6.76L-41.40 -4.22L-40.50 -2.54L-38.70 -0.84L-36.90 0.00L-33.30 0.00L-31.50 -0.84L-29.70 -2.54L-28.80 -4.22L-27.90 -6.76L-27.90 -10.98L-28.80 -13.52L-29.70 -15.21L-31.50 -16.90L-33.30 -17.75L-36.90 -17.75M-11.70 -9.29L-13.50 -10.98L-15.30 -11.83L-18.00 -11.83L-19.80 -10.98L-21.60 -9.29L-22.50 -6.76L-22.50 -5.07L-21.60 -2.54L-19.80 -0.84L-18.00 0.00L-15.30 0.00L-13.50 -0.84L-11.70 -2.54M-4.50 -17.75L-4.50 -3.38L-3.60 -0.84L-1.80 0.00L0.00 0.00M-7.20 -11.83L-0.90 -11.83" fill="none" stroke="#000" stroke-width="1.60" stroke-linecap="round" stroke-linejoin="round"/>
<path transform="translate(317.80 264.19)" d="M-45.90 -17.75L-45.90 0.00M-45.90 -17.75L-33.30 0.00M-33.30 -17.75L-33.30 0.00M-22.50 -11.83L-24.30 -10.98L-26.10 -9.29L-27.00 -6.76L-27.00 -5.07L-26.10 -2.54L-24.30 -0.84L-22.50 0.00L-19.80 0.00L-18.00 -0.84L-16.20 -2.54L-15.30 -5.07L-15.30 -6.76L-16.20 -9.29L-18.00 -10.98L-19.80 -11.83L-22.50 -11.83M-10.80 -11.83L-5.40 0.00M0.00 -11.83L-5.40 0.00" fill="none" stroke="#000" stroke-width="1.60" stroke-linecap="round" stroke-linejoin="round"/>
<path transform="translate(317.80 213.60)" d="M-45.00 -17.75L-45.00 0.00M-45.00 -17.75L-38.70 -17.75L-36.00 -16.90L-34.20 -15.21L-33.30 -13.52L-32.40 -10.98L-32.40 -6.76L-33.30 -4.22L-34.20 -2.54L-36.00 -0.84L-38.70 0.00L-45.00 0.00M-27.00 -6.76L-16.20 -6.76L-16.20 -8.45L-17.10 -10.14L-18.00 -10.98L-19.80 -11.83L-22.50 -11.83L-24.30 -10.98L-26.10 -9.29L-27.00 -6.76L-27.00 -5.07L-26.10 -2.54L-24.30 -0.84L-22.50 0.00L-19.80 0.00L-18.00 -0.84L-16.20 -2.54M-0.00 -9.29L-1.80 -10.98L-3.60 -11.83L-6.30 -11.83L-8.10 -10.98L-9.90 -9.29L-10.80 -6.76L-10.80 -5.07L-9.90 -2.54L-8.10 -0.84L-6.30 0.00L-3.60 0.00L-1.80 -0.84L-0.00 -2.54" fill="none" stroke="#000" stroke-width="1.60" stroke-linecap="round" stroke-linejoin="round"/>
<path d="M335.20 760.80 H351.20M906.80 760.80 H922.30M335.20 710.21 H351.20M906.80 710.21 H922.30M335.20 659.62 H351.20M906.80 659.62 H922.30M335.20 609.03 H351.20M906.80 609.03 H922.30M335.20 558.44 H351.20M906.80 558.44 H922.30M335.20 507.85 H351.20M906.80 507.85 H922.30M335.20 457.25 H351.20M906.80 457.25 H922.30M335.20 406.66 H351.20M906.80 406.66 H922.30M335.20 356.07 H351.20M906.80 356.07 H922.30M335.20 305.48 H351.20M906.80 305.48 H922.30M335.20 254.89 H351.20M906.80 254.89 H922.30M335.20 204.30 H351.20M906.80 204.30 H922.30M351.20 204.30 V188.80M351.20 760.80 V776.30M443.80 204.30 V188.80M443.80 760.80 V776.30M536.40 204.30 V188.80M536.40 760.80 V776.30M629.00 204.30 V188.80M629.00 760.80 V776.30M721.60 204.30 V188.80M721.60 760.80 V776.30M814.20 204.30 V188.80M814.20 760.80 V776.30M906.80 204.30 V188.80M906.80 760.80 V776.30" stroke="#000" stroke-width="2.50" fill="none"/>
<path d="M397.50 204.30 V196.30M397.50 760.80 V768.80M490.10 204.30 V196.30M490.10 760.80 V768.80M582.70 204.30 V196.30M582.70 760.80 V768.80M675.30 204.30 V196.30M675.30 760.80 V768.80M767.90 204.30 V196.30M767.90 760.80 V768.80M860.50 204.30 V196.30M860.50 760.80 V768.80" stroke="#000" stroke-width="1.5" fill="none"/>
<path transform="translate(351.20 812.80)" d="M-31.95 -14.37L-30.15 -15.21L-27.45 -17.75L-27.45 0.00M-5.85 -17.75L-14.85 -17.75L-15.75 -10.14L-14.85 -10.98L-12.15 -11.83L-9.45 -11.83L-6.75 -10.98L-4.95 -9.29L-4.05 -6.76L-4.05 -5.07L-4.95 -2.54L-6.75 -0.84L-9.45 0.00L-12.15 0.00L-14.85 -0.84L-15.75 -1.69L-16.65 -3.38M6.75 -17.75L4.05 -16.90L2.25 -14.37L1.35 -10.14L1.35 -7.60L2.25 -3.38L4.05 -0.84L6.75 0.00L8.55 0.00L11.25 -0.84L13.05 -3.38L13.95 -7.60L13.95 -10.14L13.05 -14.37L11.25 -16.90L8.55 -17.75L6.75 -17.75M20.25 -17.75L20.25 0.00M20.25 -17.75L31.95 -17.75M20.25 -9.29L27.45 -9.29M20.25 0.00L31.95 0.00" fill="none" stroke="#000" stroke-width="1.60" stroke-linecap="round" stroke-linejoin="round"/>
<path transform="translate(443.80 812.80)" d="M-31.95 -14.37L-30.15 -15.21L-27.45 -17.75L-27.45 0.00M-4.05 -17.75L-13.05 0.00M-16.65 -17.75L-4.05 -17.75M6.75 -17.75L4.05 -16.90L2.25 -14.37L1.35 -10.14L1.35 -7.60L2.25 -3.38L4.05 -0.84L6.75 0.00L8.55 0.00L11.25 -0.84L13.05 -3.38L13.95 -7.60L13.95 -10.14L13.05 -14.37L11.25 -16.90L8.55 -17.75L6.75 -17.75M20.25 -17.75L20.25 0.00M20.25 -17.75L31.95 -17.75M20.25 -9.29L27.45 -9.29M20.25 0.00L31.95 0.00" fill="none" stroke="#000" stroke-width="1.60" stroke-linecap="round" stroke-linejoin="round"/>
<path transform="translate(536.40 812.80)" d="M-34.20 -14.37L-32.40 -15.21L-29.70 -17.75L-29.70 0.00M-6.30 -17.75L-15.30 0.00M-18.90 -17.75L-6.30 -17.75M4.50 -17.75L1.80 -16.90L0.00 -14.37L-0.90 -10.14L-0.90 -7.60L0.00 -3.38L1.80 -0.84L4.50 0.00L6.30 0.00L9.00 -0.84L10.80 -3.38L11.70 -7.60L11.70 -10.14L10.80 -14.37L9.00 -16.90L6.30 -17.75L4.50 -17.75M16.20 -17.75L20.70 0.00M25.20 -17.75L20.70 0.00M25.20 -17.75L29.70 0.00M34.20 -17.75L29.70 0.00" fill="none" stroke="#000" stroke-width="1.60" stroke-linecap="round" stroke-linejoin="round"/>
<path transform="translate(629.00 812.80)" d="M-34.20 -14.37L-32.40 -15.21L-29.70 -17.75L-29.70 0.00M-8.10 -17.75L-17.10 -17.75L-18.00 -10.14L-17.10 -10.98L-14.40 -11.83L-11.70 -11.83L-9.00 -10.98L-7.20 -9.29L-6.30 -6.76L-6.30 -5.07L-7.20 -2.54L-9.00 -0.84L-11.70 0.00L-14.40 0.00L-17.10 -0.84L-18.00 -1.69L-18.90 -3.38M4.50 -17.75L1.80 -16.90L0.00 -14.37L-0.90 -10.14L-0.90 -7.60L0.00 -3.38L1.80 -0.84L4.50 0.00L6.30 0.00L9.00 -0.84L10.80 -3.38L11.70 -7.60L11.70 -10.14L10.80 -14.37L9.00 -16.90L6.30 -17.75L4.50 -17.75M16.20 -17.75L20.70 0.00M25.20 -17.75L20.70 0.00M25.20 -17.75L29.70 0.00M34.20 -17.75L29.70 0.00" fill="none" stroke="#000" stroke-width="1.60" stroke-linecap="round" stroke-linejoin="round"/>
<path transform="translate(721.60 812.80)" d="M-34.20 -14.37L-32.40 -15.21L-29.70 -17.75L-29.70 0.00M-17.10 -17.75L-7.20 -17.75L-12.60 -10.98L-9.90 -10.98L-8.10 -10.14L-7.20 -9.29L-6.30 -6.76L-6.30 -5.07L-7.20 -2.54L-9.00 -0.84L-11.70 0.00L-14.40 0.00L-17.10 -0.84L-18.00 -1.69L-18.90 -3.38M4.50 -17.75L1.80 -16.90L0.00 -14.37L-0.90 -10.14L-0.90 -7.60L0.00 -3.38L1.80 -0.84L4.50 0.00L6.30 0.00L9.00 -0.84L10.80 -3.38L11.70 -7.60L11.70 -10.14L10.80 -14.37L9.00 -16.90L6.30 -17.75L4.50 -17.75M16.20 -17.75L20.70 0.00M25.20 -17.75L20.70 0.00M25.20 -17.75L29.70 0.00M34.20 -17.75L29.70 0.00" fill="none" stroke="#000" stroke-width="1.60" stroke-linecap="round" stroke-linejoin="round"/>
<path transform="translate(814.20 812.80)" d="M-34.20 -14.37L-32.40 -15.21L-29.70 -17.75L-29.70 0.00M-16.20 -14.37L-14.40 -15.21L-11.70 -17.75L-11.70 0.00M4.50 -17.75L1.80 -16.90L0.00 -14.37L-0.90 -10.14L-0.90 -7.60L0.00 -3.38L1.80 -0.84L4.50 0.00L6.30 0.00L9.00 -0.84L10.80 -3.38L11.70 -7.60L11.70 -10.14L10.80 -14.37L9.00 -16.90L6.30 -17.75L4.50 -17.75M16.20 -17.75L20.70 0.00M25.20 -17.75L20.70 0.00M25.20 -17.75L29.70 0.00M34.20 -17.75L29.70 0.00" fill="none" stroke="#000" stroke-width="1.60" stroke-linecap="round" stroke-linejoin="round"/>
<path transform="translate(906.80 812.80)" d="M-14.85 -11.83L-15.75 -9.29L-17.55 -7.60L-20.25 -6.76L-21.15 -6.76L-23.85 -7.60L-25.65 -9.29L-26.55 -11.83L-26.55 -12.67L-25.65 -15.21L-23.85 -16.90L-21.15 -17.75L-20.25 -17.75L-17.55 -16.90L-15.75 -15.21L-14.85 -11.83L-14.85 -7.60L-15.75 -3.38L-17.55 -0.84L-20.25 0.00L-22.05 0.00L-24.75 -0.84L-25.65 -2.54M-3.15 -17.75L-5.85 -16.90L-7.65 -14.37L-8.55 -10.14L-8.55 -7.60L-7.65 -3.38L-5.85 -0.84L-3.15 0.00L-1.35 0.00L1.35 -0.84L3.15 -3.38L4.05 -7.60L4.05 -10.14L3.15 -14.37L1.35 -16.90L-1.35 -17.75L-3.15 -17.75M8.55 -17.75L13.05 0.00M17.55 -17.75L13.05 0.00M17.55 -17.75L22.05 0.00M26.55 -17.75L22.05 0.00" fill="none" stroke="#000" stroke-width="1.60" stroke-linecap="round" stroke-linejoin="round"/>
<path transform="translate(350.30 185.70)" d="M12.40 -15.21L10.63 -16.90L7.97 -17.75L4.43 -17.75L1.77 -16.90L0.00 -15.21L0.00 -13.52L0.89 -11.83L1.77 -10.98L3.54 -10.14L8.86 -8.45L10.63 -7.60L11.52 -6.76L12.40 -5.07L12.40 -2.54L10.63 -0.84L7.97 0.00L4.43 0.00L1.77 -0.84L0.00 -2.54M18.61 -11.83L18.61 -3.38L19.49 -0.84L21.26 0.00L23.92 0.00L25.69 -0.84L28.35 -3.38M28.35 -11.83L28.35 0.00M35.44 -11.83L35.44 0.00M35.44 -6.76L36.33 -9.29L38.10 -10.98L39.87 -11.83L42.53 -11.83M52.27 -17.75L50.50 -17.75L48.73 -16.90L47.84 -14.37L47.84 0.00M45.19 -11.83L51.39 -11.83M67.34 -11.83L67.34 0.00M67.34 -9.29L65.56 -10.98L63.79 -11.83L61.13 -11.83L59.36 -10.98L57.59 -9.29L56.70 -6.76L56.70 -5.07L57.59 -2.54L59.36 -0.84L61.13 0.00L63.79 0.00L65.56 -0.84L67.34 -2.54M84.17 -9.29L82.40 -10.98L80.63 -11.83L77.97 -11.83L76.20 -10.98L74.42 -9.29L73.54 -6.76L73.54 -5.07L74.42 -2.54L76.20 -0.84L77.97 0.00L80.63 0.00L82.40 -0.84L84.17 -2.54M89.49 -6.76L100.12 -6.76L100.12 -8.45L99.23 -10.14L98.35 -10.98L96.57 -11.83L93.92 -11.83L92.14 -10.98L90.37 -9.29L89.49 -6.76L89.49 -5.07L90.37 -2.54L92.14 -0.84L93.92 0.00L96.57 0.00L98.35 -0.84L100.12 -2.54M129.36 -11.83L119.61 0.00M119.61 -11.83L129.36 -11.83M119.61 0.00L129.36 0.00M139.10 -11.83L137.33 -10.98L135.56 -9.29L134.67 -6.76L134.67 -5.07L135.56 -2.54L137.33 -0.84L139.10 0.00L141.76 0.00L143.53 -0.84L145.30 -2.54L146.19 -5.07L146.19 -6.76L145.30 -9.29L143.53 -10.98L141.76 -11.83L139.10 -11.83M152.39 -11.83L152.39 0.00M152.39 -8.45L155.05 -10.98L156.82 -11.83L159.48 -11.83L161.25 -10.98L162.14 -8.45L162.14 0.00M178.97 -11.83L178.97 0.00M178.97 -9.29L177.20 -10.98L175.43 -11.83L172.77 -11.83L171.00 -10.98L169.23 -9.29L168.34 -6.76L168.34 -5.07L169.23 -2.54L171.00 -0.84L172.77 0.00L175.43 0.00L177.20 -0.84L178.97 -2.54M186.06 -17.75L186.06 0.00M216.18 -9.29L215.30 -10.98L212.64 -11.83L209.98 -11.83L207.32 -10.98L206.44 -9.29L207.32 -7.60L209.10 -6.76L213.53 -5.92L215.30 -5.07L216.18 -3.38L216.18 -2.54L215.30 -0.84L212.64 0.00L209.98 0.00L207.32 -0.84L206.44 -2.54M223.27 -17.75L223.27 -3.38L224.16 -0.84L225.93 0.00L227.70 0.00M220.61 -11.83L226.82 -11.83M233.02 -11.83L233.02 0.00M233.02 -6.76L233.90 -9.29L235.68 -10.98L237.45 -11.83L240.11 -11.83M243.65 -6.76L254.28 -6.76L254.28 -8.45L253.40 -10.14L252.51 -10.98L250.74 -11.83L248.08 -11.83L246.31 -10.98L244.54 -9.29L243.65 -6.76L243.65 -5.07L244.54 -2.54L246.31 -0.84L248.08 0.00L250.74 0.00L252.51 -0.84L254.28 -2.54M269.34 -9.29L268.46 -10.98L265.80 -11.83L263.14 -11.83L260.48 -10.98L259.60 -9.29L260.48 -7.60L262.26 -6.76L266.69 -5.92L268.46 -5.07L269.34 -3.38L269.34 -2.54L268.46 -0.84L265.80 0.00L263.14 0.00L260.48 -0.84L259.60 -2.54M284.41 -9.29L283.52 -10.98L280.86 -11.83L278.20 -11.83L275.55 -10.98L274.66 -9.29L275.55 -7.60L277.32 -6.76L281.75 -5.92L283.52 -5.07L284.41 -3.38L284.41 -2.54L283.52 -0.84L280.86 0.00L278.20 0.00L275.55 -0.84L274.66 -2.54" fill="none" stroke="#000" stroke-width="1.60" stroke-linecap="round" stroke-linejoin="round"/>
<path transform="translate(906.20 179.70)" d="M-49.50 -11.83L-39.60 0.00M-39.60 -11.83L-49.50 0.00M-32.40 -1.69L-33.30 -0.84L-32.40 0.00L-31.50 -0.84L-32.40 -1.69M-19.80 -17.75L-22.50 -16.90L-24.30 -14.37L-25.20 -10.14L-25.20 -7.60L-24.30 -3.38L-22.50 -0.84L-19.80 0.00L-18.00 0.00L-15.30 -0.84L-13.50 -3.38L-12.60 -7.60L-12.60 -10.14L-13.50 -14.37L-15.30 -16.90L-18.00 -17.75L-19.80 -17.75M-4.50 -14.37L-2.70 -15.21L-0.00 -17.75L-0.00 0.00" fill="none" stroke="#000" stroke-width="1.60" stroke-linecap="round" stroke-linejoin="round"/>
<path transform="translate(831.00 168.10)" d="M0.54 -8.16L0.54 -8.67L1.09 -9.69L1.63 -10.20L2.72 -10.71L4.89 -10.71L5.97 -10.20L6.52 -9.69L7.06 -8.67L7.06 -7.65L6.52 -6.63L5.43 -5.10L0.00 0.00L7.60 0.00" fill="none" stroke="#000" stroke-width="1.40" stroke-linecap="round" stroke-linejoin="round"/>
<path transform="translate(828.20 179.70)" d="M-59.40 -17.75L-59.40 0.00M-59.40 -17.75L-46.80 0.00M-46.80 -17.75L-46.80 0.00M-25.20 -21.12L-41.40 5.92M-19.80 -11.83L-19.80 0.00M-19.80 -8.45L-17.10 -10.98L-15.30 -11.83L-12.60 -11.83L-10.80 -10.98L-9.90 -8.45L-9.90 0.00M-9.90 -8.45L-7.20 -10.98L-5.40 -11.83L-2.70 -11.83L-0.90 -10.98L0.00 -8.45L0.00 0.00" fill="none" stroke="#000" stroke-width="1.60" stroke-linecap="round" stroke-linejoin="round"/>
<path transform="translate(247.30 482.85) rotate(-90)" d="M-46.75 -22.36L-46.75 0.00M-46.75 -22.36L-37.95 0.00M-29.15 -22.36L-37.95 0.00M-29.15 -22.36L-29.15 0.00M-15.95 -14.91L-18.15 -13.84L-20.35 -11.71L-21.45 -8.52L-21.45 -6.39L-20.35 -3.19L-18.15 -1.06L-15.95 0.00L-12.65 0.00L-10.45 -1.06L-8.25 -3.19L-7.15 -6.39L-7.15 -8.52L-8.25 -11.71L-10.45 -13.84L-12.65 -14.91L-15.95 -14.91M0.55 -14.91L0.55 0.00M0.55 -10.65L3.85 -13.84L6.05 -14.91L9.35 -14.91L11.55 -13.84L12.65 -10.65L12.65 0.00M22.55 -22.36L22.55 -4.26L23.65 -1.06L25.85 0.00L28.05 0.00M19.25 -14.91L26.95 -14.91M34.65 -22.36L34.65 0.00M34.65 -10.65L37.95 -13.84L40.15 -14.91L43.45 -14.91L45.65 -13.84L46.75 -10.65L46.75 0.00" fill="none" stroke="#000" stroke-width="1.80" stroke-linecap="round" stroke-linejoin="round"/>
<path transform="translate(629.00 133.60)" d="M-375.92 -14.64L-376.90 -16.47L-378.88 -18.30L-380.85 -19.21L-384.80 -19.21L-386.77 -18.30L-388.74 -16.47L-389.73 -14.64L-390.72 -11.89L-390.72 -7.32L-389.73 -4.58L-388.74 -2.75L-386.77 -0.92L-384.80 0.00L-380.85 0.00L-378.88 -0.92L-376.90 -2.75L-375.92 -4.58M-369.01 -19.21L-369.01 0.00M-369.01 -19.21L-356.18 -19.21M-369.01 -10.07L-361.12 -10.07M-369.01 0.00L-356.18 0.00M-337.44 -16.47L-339.41 -18.30L-342.37 -19.21L-346.32 -19.21L-349.28 -18.30L-351.25 -16.47L-351.25 -14.64L-350.26 -12.81L-349.28 -11.89L-347.30 -10.98L-341.38 -9.15L-339.41 -8.23L-338.42 -7.32L-337.44 -5.49L-337.44 -2.75L-339.41 -0.92L-342.37 0.00L-346.32 0.00L-349.28 -0.92L-351.25 -2.75M-330.53 -19.21L-330.53 0.00M-330.53 -19.21L-322.64 0.00M-314.74 -19.21L-322.64 0.00M-314.74 -19.21L-314.74 0.00M-306.85 -14.64L-306.85 -15.55L-305.86 -17.39L-304.88 -18.30L-302.90 -19.21L-298.96 -19.21L-296.98 -18.30L-296.00 -17.39L-295.01 -15.55L-295.01 -13.73L-296.00 -11.89L-297.97 -9.15L-307.84 0.00L-294.02 0.00M-287.12 -19.21L-287.12 0.00M-287.12 -19.21L-278.24 -19.21L-275.28 -18.30L-274.29 -17.39L-273.30 -15.55L-273.30 -13.73L-274.29 -11.89L-275.28 -10.98L-278.24 -10.07M-287.12 -10.07L-278.24 -10.07L-275.28 -9.15L-274.29 -8.23L-273.30 -6.41L-273.30 -3.66L-274.29 -1.83L-275.28 -0.92L-278.24 0.00L-287.12 0.00M-266.40 -14.64L-266.40 -15.55L-265.41 -17.39L-264.42 -18.30L-262.45 -19.21L-258.50 -19.21L-256.53 -18.30L-255.54 -17.39L-254.56 -15.55L-254.56 -13.73L-255.54 -11.89L-257.52 -9.15L-267.38 0.00L-253.57 0.00M-249.62 3.66L-233.84 3.66M-223.97 -19.21L-225.94 -18.30L-227.92 -16.47L-228.90 -14.64L-229.89 -11.89L-229.89 -7.32L-228.90 -4.58L-227.92 -2.75L-225.94 -0.92L-223.97 0.00L-220.02 0.00L-218.05 -0.92L-216.08 -2.75L-215.09 -4.58L-214.10 -7.32L-214.10 -11.89L-215.09 -14.64L-216.08 -16.47L-218.05 -18.30L-220.02 -19.21L-223.97 -19.21M-197.33 -10.07L-198.32 -11.89L-201.28 -12.81L-204.24 -12.81L-207.20 -11.89L-208.18 -10.07L-207.20 -8.23L-205.22 -7.32L-200.29 -6.41L-198.32 -5.49L-197.33 -3.66L-197.33 -2.75L-198.32 -0.92L-201.28 0.00L-204.24 0.00L-207.20 -0.92L-208.18 -2.75M-190.42 -19.21L-190.42 0.00M-178.58 -12.81L-180.56 -11.89L-182.53 -10.07L-183.52 -7.32L-183.52 -5.49L-182.53 -2.75L-180.56 -0.92L-178.58 0.00L-175.62 0.00L-173.65 -0.92L-171.68 -2.75L-170.69 -5.49L-170.69 -7.32L-171.68 -10.07L-173.65 -11.89L-175.62 -12.81L-178.58 -12.81M-166.74 3.66L-150.96 3.66M-146.03 -19.21L-146.03 0.00M-146.03 -19.21L-133.20 -19.21M-146.03 -10.07L-138.13 -10.07M-114.45 -14.64L-115.44 -16.47L-117.41 -18.30L-119.39 -19.21L-123.33 -19.21L-125.31 -18.30L-127.28 -16.47L-128.27 -14.64L-129.25 -11.89L-129.25 -7.32L-128.27 -4.58L-127.28 -2.75L-125.31 -0.92L-123.33 0.00L-119.39 0.00L-117.41 -0.92L-115.44 -2.75L-114.45 -4.58M-96.69 -19.21L-106.56 -19.21L-107.55 -10.98L-106.56 -11.89L-103.60 -12.81L-100.64 -12.81L-97.68 -11.89L-95.71 -10.07L-94.72 -7.32L-94.72 -5.49L-95.71 -2.75L-97.68 -0.92L-100.64 0.00L-103.60 0.00L-106.56 -0.92L-107.55 -1.83L-108.53 -3.66M-76.96 -19.21L-86.83 -19.21L-87.81 -10.98L-86.83 -11.89L-83.87 -12.81L-80.91 -12.81L-77.95 -11.89L-75.97 -10.07L-74.99 -7.32L-74.99 -5.49L-75.97 -2.75L-77.95 -0.92L-80.91 0.00L-83.87 0.00L-86.83 -0.92L-87.81 -1.83L-88.80 -3.66M-54.27 -14.64L-55.25 -16.47L-57.23 -18.30L-59.20 -19.21L-63.15 -19.21L-65.12 -18.30L-67.09 -16.47L-68.08 -14.64L-69.07 -11.89L-69.07 -7.32L-68.08 -4.58L-67.09 -2.75L-65.12 -0.92L-63.15 0.00L-59.20 0.00L-57.23 -0.92L-55.25 -2.75L-54.27 -4.58M-47.36 -19.21L-47.36 0.00M-47.36 0.00L-35.52 0.00M-30.59 -19.21L-30.59 -5.49L-29.60 -2.75L-27.63 -0.92L-24.67 0.00L-22.69 0.00L-19.73 -0.92L-17.76 -2.75L-16.77 -5.49L-16.77 -19.21M-8.88 -19.21L-8.88 0.00M-8.88 -19.21L-0.00 -19.21L2.96 -18.30L3.95 -17.39L4.93 -15.55L4.93 -13.73L3.95 -11.89L2.96 -10.98L-0.00 -10.07M-8.88 -10.07L-0.00 -10.07L2.96 -9.15L3.95 -8.23L4.93 -6.41L4.93 -3.66L3.95 -1.83L2.96 -0.92L-0.00 0.00L-8.88 0.00M11.84 -19.21L11.84 0.00M11.84 -19.21L20.72 -19.21L23.68 -18.30L24.67 -17.39L25.65 -15.55L25.65 -13.73L24.67 -11.89L23.68 -10.98L20.72 -10.07M11.84 -10.07L20.72 -10.07L23.68 -9.15L24.67 -8.23L25.65 -6.41L25.65 -3.66L24.67 -1.83L23.68 -0.92L20.72 0.00L11.84 0.00M29.60 3.66L45.39 3.66M61.17 -10.07L59.20 -11.89L57.23 -12.81L54.27 -12.81L52.29 -11.89L50.32 -10.07L49.33 -7.32L49.33 -5.49L50.32 -2.75L52.29 -0.92L54.27 0.00L57.23 0.00L59.20 -0.92L61.17 -2.75M73.01 -19.21L70.05 -18.30L68.08 -15.55L67.09 -10.98L67.09 -8.23L68.08 -3.66L70.05 -0.92L73.01 0.00L74.99 0.00L77.95 -0.92L79.92 -3.66L80.91 -8.23L80.91 -10.98L79.92 -15.55L77.95 -18.30L74.99 -19.21L73.01 -19.21M84.85 3.66L100.64 3.66M105.57 -19.21L105.57 0.00M113.47 -12.81L113.47 0.00M113.47 -9.15L116.43 -11.89L118.40 -12.81L121.36 -12.81L123.33 -11.89L124.32 -9.15L124.32 0.00M143.07 -19.21L143.07 0.00M143.07 -10.07L141.09 -11.89L139.12 -12.81L136.16 -12.81L134.19 -11.89L132.21 -10.07L131.23 -7.32L131.23 -5.49L132.21 -2.75L134.19 -0.92L136.16 0.00L139.12 0.00L141.09 -0.92L143.07 -2.75M155.89 -19.21L152.93 -18.30L150.96 -15.55L149.97 -10.98L149.97 -8.23L150.96 -3.66L152.93 -0.92L155.89 0.00L157.86 0.00L160.82 -0.92L162.80 -3.66L163.78 -8.23L163.78 -10.98L162.80 -15.55L160.82 -18.30L157.86 -19.21L155.89 -19.21M170.69 -12.81L170.69 6.41M170.69 -10.07L172.66 -11.89L174.64 -12.81L177.60 -12.81L179.57 -11.89L181.54 -10.07L182.53 -7.32L182.53 -5.49L181.54 -2.75L179.57 -0.92L177.60 0.00L174.64 0.00L172.66 -0.92L170.69 -2.75M194.37 -19.21L191.41 -18.30L189.44 -15.55L188.45 -10.98L188.45 -8.23L189.44 -3.66L191.41 -0.92L194.37 0.00L196.34 0.00L199.30 -0.92L201.28 -3.66L202.26 -8.23L202.26 -10.98L201.28 -15.55L199.30 -18.30L196.34 -19.21L194.37 -19.21M210.16 -19.21L221.01 -19.21L215.09 -11.89L218.05 -11.89L220.02 -10.98L221.01 -10.07L222.00 -7.32L222.00 -5.49L221.01 -2.75L219.04 -0.92L216.08 0.00L213.12 0.00L210.16 -0.92L209.17 -1.83L208.18 -3.66M251.60 -22.88L249.62 -21.05L247.65 -18.30L245.68 -14.64L244.69 -10.07L244.69 -6.41L245.68 -1.83L247.65 1.83L249.62 4.58L251.60 6.41M256.53 -12.81L262.45 0.00M268.37 -12.81L262.45 0.00L260.48 3.66L258.50 5.49L256.53 6.41L255.54 6.41M274.29 -12.81L274.29 0.00M274.29 -7.32L275.28 -10.07L277.25 -11.89L279.22 -12.81L282.18 -12.81M296.98 -10.07L296.00 -11.89L293.04 -12.81L290.08 -12.81L287.12 -11.89L286.13 -10.07L287.12 -8.23L289.09 -7.32L294.02 -6.41L296.00 -5.49L296.98 -3.66L296.98 -2.75L296.00 -0.92L293.04 0.00L290.08 0.00L287.12 -0.92L286.13 -2.75M319.68 -14.64L319.68 -15.55L320.66 -17.39L321.65 -18.30L323.62 -19.21L327.57 -19.21L329.54 -18.30L330.53 -17.39L331.52 -15.55L331.52 -13.73L330.53 -11.89L328.56 -9.15L318.69 0.00L332.50 0.00M339.41 -8.23L357.17 -8.23M375.92 -19.21L366.05 -19.21L365.06 -10.98L366.05 -11.89L369.01 -12.81L371.97 -12.81L374.93 -11.89L376.90 -10.07L377.89 -7.32L377.89 -5.49L376.90 -2.75L374.93 -0.92L371.97 0.00L369.01 0.00L366.05 -0.92L365.06 -1.83L364.08 -3.66M383.81 -22.88L385.78 -21.05L387.76 -18.30L389.73 -14.64L390.72 -10.07L390.72 -6.41L389.73 -1.83L387.76 1.83L385.78 4.58L383.81 6.41" fill="none" stroke="#000" stroke-width="1.40" stroke-linecap="round" stroke-linejoin="round"/>
<rect x="956.6" y="721.21" width="25" height="34.09" fill="#000087" stroke="#000" stroke-width="1.2"/>
<rect x="956.6" y="687.11" width="25" height="34.09" fill="#0019b4" stroke="#000" stroke-width="1.2"/>
<rect x="956.6" y="653.02" width="25" height="34.09" fill="#0028e1" stroke="#000" stroke-width="1.2"/>
<rect x="956.6" y="618.92" width="25" height="34.09" fill="#194bff" stroke="#000" stroke-width="1.2"/>
<rect x="956.6" y="584.83" width="25" height="34.09" fill="#4678ff" stroke="#000" stroke-width="1.2"/>
<rect x="956.6" y="550.74" width="25" height="34.09" fill="#87a8ff" stroke="#000" stroke-width="1.2"/>
<rect x="956.6" y="516.64" width="25" height="34.09" fill="#b2cbff" stroke="#000" stroke-width="1.2"/>
<rect x="956.6" y="482.55" width="25" height="34.09" fill="#d5e8ff" stroke="#000" stroke-width="1.2"/>
<rect x="956.6" y="448.46" width="25" height="34.09" fill="#ffe9d7" stroke="#000" stroke-width="1.2"/>
<rect x="956.6" y="414.36" width="25" height="34.09" fill="#ffcdb4" stroke="#000" stroke-width="1.2"/>
<rect x="956.6" y="380.27" width="25" height="34.09" fill="#ffaa82" stroke="#000" stroke-width="1.2"/>
<rect x="956.6" y="346.17" width="25" height="34.09" fill="#ff7841" stroke="#000" stroke-width="1.2"/>
<rect x="956.6" y="312.08" width="25" height="34.09" fill="#ff5019" stroke="#000" stroke-width="1.2"/>
<rect x="956.6" y="277.99" width="25" height="34.09" fill="#e43200" stroke="#000" stroke-width="1.2"/>
<rect x="956.6" y="243.89" width="25" height="34.09" fill="#b92300" stroke="#000" stroke-width="1.2"/>
<rect x="956.6" y="209.80" width="25" height="34.09" fill="#8c0000" stroke="#000" stroke-width="1.2"/>
<path transform="translate(1022.50 730.21)" d="M-31.05 -7.60L-14.85 -7.60M-7.65 -13.52L-7.65 -14.37L-6.75 -16.05L-5.85 -16.90L-4.05 -17.75L-0.45 -17.75L1.35 -16.90L2.25 -16.05L3.15 -14.37L3.15 -12.67L2.25 -10.98L0.45 -8.45L-8.55 0.00L4.05 0.00M11.25 -1.69L10.35 -0.84L11.25 0.00L12.15 -0.84L11.25 -1.69M22.95 -17.75L20.25 -16.90L19.35 -15.21L19.35 -13.52L20.25 -11.83L22.05 -10.98L25.65 -10.14L28.35 -9.29L30.15 -7.60L31.05 -5.92L31.05 -3.38L30.15 -1.69L29.25 -0.84L26.55 0.00L22.95 0.00L20.25 -0.84L19.35 -1.69L18.45 -3.38L18.45 -5.92L19.35 -7.60L21.15 -9.29L23.85 -10.14L27.45 -10.98L29.25 -11.83L30.15 -13.52L30.15 -15.21L29.25 -16.90L26.55 -17.75L22.95 -17.75" fill="none" stroke="#000" stroke-width="1.60" stroke-linecap="round" stroke-linejoin="round"/>
<path transform="translate(1022.50 696.11)" d="M-31.50 -7.60L-15.30 -7.60M-8.10 -13.52L-8.10 -14.37L-7.20 -16.05L-6.30 -16.90L-4.50 -17.75L-0.90 -17.75L0.90 -16.90L1.80 -16.05L2.70 -14.37L2.70 -12.67L1.80 -10.98L0.00 -8.45L-9.00 0.00L3.60 0.00M10.80 -1.69L9.90 -0.84L10.80 0.00L11.70 -0.84L10.80 -1.69M27.00 -17.75L18.00 -5.92L31.50 -5.92M27.00 -17.75L27.00 0.00" fill="none" stroke="#000" stroke-width="1.60" stroke-linecap="round" stroke-linejoin="round"/>
<path transform="translate(1022.50 662.02)" d="M-17.55 -7.60L-1.35 -7.60M5.85 -13.52L5.85 -14.37L6.75 -16.05L7.65 -16.90L9.45 -17.75L13.05 -17.75L14.85 -16.90L15.75 -16.05L16.65 -14.37L16.65 -12.67L15.75 -10.98L13.95 -8.45L4.95 0.00L17.55 0.00" fill="none" stroke="#000" stroke-width="1.60" stroke-linecap="round" stroke-linejoin="round"/>
<path transform="translate(1022.50 627.92)" d="M-31.05 -7.60L-14.85 -7.60M-5.85 -14.37L-4.05 -15.21L-1.35 -17.75L-1.35 0.00M11.25 -1.69L10.35 -0.84L11.25 0.00L12.15 -0.84L11.25 -1.69M30.15 -15.21L29.25 -16.90L26.55 -17.75L24.75 -17.75L22.05 -16.90L20.25 -14.37L19.35 -10.14L19.35 -5.92L20.25 -2.54L22.05 -0.84L24.75 0.00L25.65 0.00L28.35 -0.84L30.15 -2.54L31.05 -5.07L31.05 -5.92L30.15 -8.45L28.35 -10.14L25.65 -10.98L24.75 -10.98L22.05 -10.14L20.25 -8.45L19.35 -5.92" fill="none" stroke="#000" stroke-width="1.60" stroke-linecap="round" stroke-linejoin="round"/>
<path transform="translate(1022.50 593.83)" d="M-31.05 -7.60L-14.85 -7.60M-5.85 -14.37L-4.05 -15.21L-1.35 -17.75L-1.35 0.00M11.25 -1.69L10.35 -0.84L11.25 0.00L12.15 -0.84L11.25 -1.69M19.35 -13.52L19.35 -14.37L20.25 -16.05L21.15 -16.90L22.95 -17.75L26.55 -17.75L28.35 -16.90L29.25 -16.05L30.15 -14.37L30.15 -12.67L29.25 -10.98L27.45 -8.45L18.45 0.00L31.05 0.00" fill="none" stroke="#000" stroke-width="1.60" stroke-linecap="round" stroke-linejoin="round"/>
<path transform="translate(1022.50 559.74)" d="M-31.05 -7.60L-14.85 -7.60M-3.15 -17.75L-5.85 -16.90L-7.65 -14.37L-8.55 -10.14L-8.55 -7.60L-7.65 -3.38L-5.85 -0.84L-3.15 0.00L-1.35 0.00L1.35 -0.84L3.15 -3.38L4.05 -7.60L4.05 -10.14L3.15 -14.37L1.35 -16.90L-1.35 -17.75L-3.15 -17.75M11.25 -1.69L10.35 -0.84L11.25 0.00L12.15 -0.84L11.25 -1.69M22.95 -17.75L20.25 -16.90L19.35 -15.21L19.35 -13.52L20.25 -11.83L22.05 -10.98L25.65 -10.14L28.35 -9.29L30.15 -7.60L31.05 -5.92L31.05 -3.38L30.15 -1.69L29.25 -0.84L26.55 0.00L22.95 0.00L20.25 -0.84L19.35 -1.69L18.45 -3.38L18.45 -5.92L19.35 -7.60L21.15 -9.29L23.85 -10.14L27.45 -10.98L29.25 -11.83L30.15 -13.52L30.15 -15.21L29.25 -16.90L26.55 -17.75L22.95 -17.75" fill="none" stroke="#000" stroke-width="1.60" stroke-linecap="round" stroke-linejoin="round"/>
<path transform="translate(1022.50 525.64)" d="M-31.50 -7.60L-15.30 -7.60M-3.60 -17.75L-6.30 -16.90L-8.10 -14.37L-9.00 -10.14L-9.00 -7.60L-8.10 -3.38L-6.30 -0.84L-3.60 0.00L-1.80 0.00L0.90 -0.84L2.70 -3.38L3.60 -7.60L3.60 -10.14L2.70 -14.37L0.90 -16.90L-1.80 -17.75L-3.60 -17.75M10.80 -1.69L9.90 -0.84L10.80 0.00L11.70 -0.84L10.80 -1.69M27.00 -17.75L18.00 -5.92L31.50 -5.92M27.00 -17.75L27.00 0.00" fill="none" stroke="#000" stroke-width="1.60" stroke-linecap="round" stroke-linejoin="round"/>
<path transform="translate(1022.50 491.55)" d="M-0.90 -17.75L-3.60 -16.90L-5.40 -14.37L-6.30 -10.14L-6.30 -7.60L-5.40 -3.38L-3.60 -0.84L-0.90 0.00L0.90 0.00L3.60 -0.84L5.40 -3.38L6.30 -7.60L6.30 -10.14L5.40 -14.37L3.60 -16.90L0.90 -17.75L-0.90 -17.75" fill="none" stroke="#000" stroke-width="1.60" stroke-linecap="round" stroke-linejoin="round"/>
<path transform="translate(1022.50 457.46)" d="M-14.85 -17.75L-17.55 -16.90L-19.35 -14.37L-20.25 -10.14L-20.25 -7.60L-19.35 -3.38L-17.55 -0.84L-14.85 0.00L-13.05 0.00L-10.35 -0.84L-8.55 -3.38L-7.65 -7.60L-7.65 -10.14L-8.55 -14.37L-10.35 -16.90L-13.05 -17.75L-14.85 -17.75M-0.45 -1.69L-1.35 -0.84L-0.45 0.00L0.45 -0.84L-0.45 -1.69M15.75 -17.75L6.75 -5.92L20.25 -5.92M15.75 -17.75L15.75 0.00" fill="none" stroke="#000" stroke-width="1.60" stroke-linecap="round" stroke-linejoin="round"/>
<path transform="translate(1022.50 423.36)" d="M-14.40 -17.75L-17.10 -16.90L-18.90 -14.37L-19.80 -10.14L-19.80 -7.60L-18.90 -3.38L-17.10 -0.84L-14.40 0.00L-12.60 0.00L-9.90 -0.84L-8.10 -3.38L-7.20 -7.60L-7.20 -10.14L-8.10 -14.37L-9.90 -16.90L-12.60 -17.75L-14.40 -17.75M0.00 -1.69L-0.90 -0.84L0.00 0.00L0.90 -0.84L0.00 -1.69M11.70 -17.75L9.00 -16.90L8.10 -15.21L8.10 -13.52L9.00 -11.83L10.80 -10.98L14.40 -10.14L17.10 -9.29L18.90 -7.60L19.80 -5.92L19.80 -3.38L18.90 -1.69L18.00 -0.84L15.30 0.00L11.70 0.00L9.00 -0.84L8.10 -1.69L7.20 -3.38L7.20 -5.92L8.10 -7.60L9.90 -9.29L12.60 -10.14L16.20 -10.98L18.00 -11.83L18.90 -13.52L18.90 -15.21L18.00 -16.90L15.30 -17.75L11.70 -17.75" fill="none" stroke="#000" stroke-width="1.60" stroke-linecap="round" stroke-linejoin="round"/>
<path transform="translate(1022.50 389.27)" d="M-18.45 -14.37L-16.65 -15.21L-13.95 -17.75L-13.95 0.00M-1.35 -1.69L-2.25 -0.84L-1.35 0.00L-0.45 -0.84L-1.35 -1.69M6.75 -13.52L6.75 -14.37L7.65 -16.05L8.55 -16.90L10.35 -17.75L13.95 -17.75L15.75 -16.90L16.65 -16.05L17.55 -14.37L17.55 -12.67L16.65 -10.98L14.85 -8.45L5.85 0.00L18.45 0.00" fill="none" stroke="#000" stroke-width="1.60" stroke-linecap="round" stroke-linejoin="round"/>
<path transform="translate(1022.50 355.17)" d="M-18.45 -14.37L-16.65 -15.21L-13.95 -17.75L-13.95 0.00M-1.35 -1.69L-2.25 -0.84L-1.35 0.00L-0.45 -0.84L-1.35 -1.69M17.55 -15.21L16.65 -16.90L13.95 -17.75L12.15 -17.75L9.45 -16.90L7.65 -14.37L6.75 -10.14L6.75 -5.92L7.65 -2.54L9.45 -0.84L12.15 0.00L13.05 0.00L15.75 -0.84L17.55 -2.54L18.45 -5.07L18.45 -5.92L17.55 -8.45L15.75 -10.14L13.05 -10.98L12.15 -10.98L9.45 -10.14L7.65 -8.45L6.75 -5.92" fill="none" stroke="#000" stroke-width="1.60" stroke-linecap="round" stroke-linejoin="round"/>
<path transform="translate(1022.50 321.08)" d="M-5.40 -13.52L-5.40 -14.37L-4.50 -16.05L-3.60 -16.90L-1.80 -17.75L1.80 -17.75L3.60 -16.90L4.50 -16.05L5.40 -14.37L5.40 -12.67L4.50 -10.98L2.70 -8.45L-6.30 0.00L6.30 0.00" fill="none" stroke="#000" stroke-width="1.60" stroke-linecap="round" stroke-linejoin="round"/>
<path transform="translate(1022.50 286.99)" d="M-19.35 -13.52L-19.35 -14.37L-18.45 -16.05L-17.55 -16.90L-15.75 -17.75L-12.15 -17.75L-10.35 -16.90L-9.45 -16.05L-8.55 -14.37L-8.55 -12.67L-9.45 -10.98L-11.25 -8.45L-20.25 0.00L-7.65 0.00M-0.45 -1.69L-1.35 -0.84L-0.45 0.00L0.45 -0.84L-0.45 -1.69M15.75 -17.75L6.75 -5.92L20.25 -5.92M15.75 -17.75L15.75 0.00" fill="none" stroke="#000" stroke-width="1.60" stroke-linecap="round" stroke-linejoin="round"/>
<path transform="translate(1022.50 252.89)" d="M-18.90 -13.52L-18.90 -14.37L-18.00 -16.05L-17.10 -16.90L-15.30 -17.75L-11.70 -17.75L-9.90 -16.90L-9.00 -16.05L-8.10 -14.37L-8.10 -12.67L-9.00 -10.98L-10.80 -8.45L-19.80 0.00L-7.20 0.00M0.00 -1.69L-0.90 -0.84L0.00 0.00L0.90 -0.84L0.00 -1.69M11.70 -17.75L9.00 -16.90L8.10 -15.21L8.10 -13.52L9.00 -11.83L10.80 -10.98L14.40 -10.14L17.10 -9.29L18.90 -7.60L19.80 -5.92L19.80 -3.38L18.90 -1.69L18.00 -0.84L15.30 0.00L11.70 0.00L9.00 -0.84L8.10 -1.69L7.20 -3.38L7.20 -5.92L8.10 -7.60L9.90 -9.29L12.60 -10.14L16.20 -10.98L18.00 -11.83L18.90 -13.52L18.90 -15.21L18.00 -16.90L15.30 -17.75L11.70 -17.75" fill="none" stroke="#000" stroke-width="1.60" stroke-linecap="round" stroke-linejoin="round"/>
<g>
<rect x="351.20" y="935.30" width="555.60" height="556.50" fill="#000087"/>
<path d="M351.2 1491.8L364.4 1491.8L377.7 1491.8L390.9 1491.8L404.1 1491.8L417.3 1491.8L430.6 1491.8L443.8 1491.8L457.0 1491.8L470.3 1491.8L483.5 1491.8L496.7 1491.8L509.9 1491.8L523.2 1491.8L536.4 1491.8L549.6 1491.8L562.9 1491.8L576.1 1491.8L589.3 1491.8L602.5 1491.8L615.8 1491.8L629.0 1491.8L642.2 1491.8L655.5 1491.8L668.7 1491.8L681.9 1491.8L695.1 1491.8L708.4 1491.8L721.6 1491.8L734.8 1491.8L748.1 1491.8L761.3 1491.8L774.5 1491.8L787.7 1491.8L801.0 1491.8L814.2 1491.8L827.4 1491.8L840.7 1491.8L853.9 1491.8L867.1 1491.8L880.3 1491.8L893.6 1491.8L906.8 1491.8L906.8 1441.2L906.8 1390.6L906.8 1340.0L906.8 1289.4L906.8 1238.8L906.8 1188.3L906.8 1137.7L906.8 1087.1L906.8 1036.5L906.8 985.9L906.8 935.3L893.6 935.3L880.3 935.3L867.1 935.3L853.9 935.3L840.7 935.3L827.4 935.3L814.2 935.3L801.0 935.3L787.7 935.3L774.5 935.3L761.3 935.3L748.1 935.3L734.8 935.3L721.6 935.3L708.4 935.3L695.1 935.3L681.9 935.3L668.7 935.3L655.5 935.3L642.2 935.3L629.0 935.3L615.8 935.3L602.5 935.3L589.3 935.3L576.1 935.3L562.9 935.3L549.6 935.3L536.4 935.3L523.2 935.3L509.9 935.3L496.7 935.3L483.5 935.3L470.3 935.3L457.0 935.3L443.8 935.3L430.6 935.3L417.3 935.3L404.1 935.3L390.9 935.3L377.7 935.3L364.4 935.3L351.2 935.3L351.2 985.9L351.2 1036.5L351.2 1087.1L351.2 1137.7L351.2 1188.3L351.2 1238.8L351.2 1289.4L351.2 1340.0L351.2 1390.6L351.2 1441.2Z" fill="#0019b4" stroke="#0019b4" stroke-width="0.6" stroke-linejoin="round" fill-rule="evenodd"/>
<path d="M351.2 1491.8L364.4 1491.8L377.7 1491.8L390.9 1491.8L404.1 1491.8L417.3 1491.8L430.6 1491.8L443.8 1491.8L457.0 1491.8L470.3 1491.8L483.5 1491.8L496.7 1491.8L509.9 1491.8L523.2 1491.8L536.4 1491.8L549.6 1491.8L562.9 1491.8L576.1 1491.8L589.3 1491.8L602.5 1491.8L615.8 1491.8L629.0 1491.8L642.2 1491.8L655.5 1491.8L668.7 1491.8L681.9 1491.8L695.1 1491.8L708.4 1491.8L721.6 1491.8L734.8 1491.8L748.1 1491.8L761.3 1491.8L774.5 1491.8L787.7 1491.8L801.0 1491.8L814.2 1491.8L827.4 1491.8L840.7 1491.8L853.9 1491.8L867.1 1491.8L880.3 1491.8L893.6 1491.8L906.8 1491.8L906.8 1441.2L906.8 1390.6L906.8 1340.0L906.8 1289.4L906.8 1238.8L906.8 1188.3L906.8 1137.7L906.8 1087.1L906.8 1036.5L906.8 985.9L906.8 935.3L893.6 935.3L880.3 935.3L867.1 935.3L853.9 935.3L840.7 935.3L827.4 935.3L814.2 935.3L801.0 935.3L787.7 935.3L774.5 935.3L761.3 935.3L748.1 935.3L734.8 935.3L721.6 935.3L708.4 935.3L695.1 935.3L681.9 935.3L668.7 935.3L655.5 935.3L642.2 935.3L629.0 935.3L615.8 935.3L602.5 935.3L589.3 935.3L576.1 935.3L562.9 935.3L549.6 935.3L536.4 935.3L523.2 935.3L509.9 935.3L496.7 935.3L483.5 935.3L470.3 935.3L457.0 935.3L443.8 935.3L430.6 935.3L417.3 935.3L404.1 935.3L390.9 935.3L377.7 935.3L364.4 935.3L351.2 935.3L351.2 985.9L351.2 1036.5L351.2 1087.1L351.2 1137.7L351.2 1188.3L351.2 1238.8L351.2 1289.4L351.2 1340.0L351.2 1390.6L351.2 1441.2Z" fill="#0028e1" stroke="#0028e1" stroke-width="0.6" stroke-linejoin="round" fill-rule="evenodd"/>
<path d="M351.2 1491.8L364.4 1491.8L377.7 1491.8L390.9 1491.8L404.1 1491.8L417.3 1491.8L430.6 1491.8L443.8 1491.8L457.0 1491.8L470.3 1491.8L483.5 1491.8L496.7 1491.8L509.9 1491.8L523.2 1491.8L536.4 1491.8L549.6 1491.8L562.9 1491.8L576.1 1491.8L589.3 1491.8L602.5 1491.8L615.8 1491.8L629.0 1491.8L642.2 1491.8L655.5 1491.8L668.7 1491.8L681.9 1491.8L695.1 1491.8L708.4 1491.8L721.6 1491.8L734.8 1491.8L748.1 1491.8L761.3 1491.8L774.5 1491.8L787.7 1491.8L801.0 1491.8L814.2 1491.8L827.4 1491.8L840.7 1491.8L853.9 1491.8L867.1 1491.8L880.3 1491.8L893.6 1491.8L906.8 1491.8L906.8 1441.2L906.8 1390.6L906.8 1340.0L906.8 1289.4L906.8 1238.8L906.8 1188.3L906.8 1137.7L906.8 1087.1L906.8 1036.5L906.8 985.9L906.8 935.3L893.6 935.3L880.3 935.3L867.1 935.3L853.9 935.3L840.7 935.3L827.4 935.3L814.2 935.3L801.0 935.3L787.7 935.3L774.5 935.3L761.3 935.3L748.1 935.3L734.8 935.3L721.6 935.3L708.4 935.3L695.1 935.3L681.9 935.3L668.7 935.3L658.6 935.3L655.5 936.8L642.2 936.7L636.7 935.3L629.0 935.3L615.8 935.3L602.5 935.3L589.3 935.3L576.1 935.3L562.9 935.3L549.6 935.3L536.4 935.3L523.2 935.3L509.9 935.3L496.7 935.3L483.5 935.3L470.3 935.3L457.0 935.3L443.8 935.3L430.6 935.3L417.3 935.3L404.1 935.3L390.9 935.3L377.7 935.3L364.4 935.3L351.2 935.3L351.2 985.9L351.2 1036.5L351.2 1087.1L351.2 1137.7L351.2 1188.3L351.2 1238.8L351.2 1289.4L351.2 1340.0L351.2 1390.6L351.2 1441.2Z" fill="#194bff" stroke="#194bff" stroke-width="0.6" stroke-linejoin="round" fill-rule="evenodd"/>
<path d="M351.2 1491.8L364.4 1491.8L377.7 1491.8L390.9 1491.8L404.1 1491.8L417.3 1491.8L430.6 1491.8L443.8 1491.8L457.0 1491.8L470.3 1491.8L483.5 1491.8L496.7 1491.8L509.9 1491.8L523.2 1491.8L536.4 1491.8L548.2 1491.8L549.6 1488.1L562.9 1459.7L569.8 1491.8L576.1 1491.8L589.3 1491.8L602.5 1491.8L615.8 1491.8L629.0 1491.8L642.2 1491.8L655.5 1491.8L668.7 1491.8L681.9 1491.8L695.1 1491.8L708.4 1491.8L721.6 1491.8L734.8 1491.8L748.1 1491.8L761.3 1491.8L774.5 1491.8L787.7 1491.8L801.0 1491.8L814.2 1491.8L827.4 1491.8L840.7 1491.8L853.9 1491.8L867.1 1491.8L880.3 1491.8L893.6 1491.8L906.8 1491.8L906.8 1441.2L906.8 1390.6L906.8 1340.0L906.8 1289.4L906.8 1238.8L906.8 1188.3L906.8 1137.7L906.8 1087.1L906.8 1036.5L906.8 985.9L906.8 935.3L893.6 935.3L880.3 935.3L867.1 935.3L853.9 935.3L840.7 935.3L827.4 935.3L814.2 935.3L801.0 935.3L787.7 935.3L774.5 935.3L761.3 935.3L748.1 935.3L734.8 935.3L721.6 935.3L708.4 935.3L695.1 935.3L681.9 935.3L679.2 935.3L668.7 940.0L655.5 945.2L642.2 946.1L629.0 942.6L615.8 939.2L602.5 941.6L594.9 935.3L589.3 935.3L576.1 935.3L562.9 935.3L549.6 935.3L536.4 935.3L523.2 935.3L509.9 935.3L496.7 935.3L483.5 935.3L470.3 935.3L457.0 935.3L443.8 935.3L430.6 935.3L417.3 935.3L404.1 935.3L390.9 935.3L377.7 935.3L364.4 935.3L351.2 935.3L351.2 985.9L351.2 1036.5L351.2 1087.1L351.2 1137.7L351.2 1188.3L351.2 1238.8L351.2 1289.4L351.2 1340.0L351.2 1390.6L351.2 1441.2Z" fill="#4678ff" stroke="#4678ff" stroke-width="0.6" stroke-linejoin="round" fill-rule="evenodd"/>
<path d="M351.2 1491.8L364.4 1491.8L377.7 1491.8L390.9 1491.8L404.1 1491.8L417.3 1491.8L430.6 1491.8L443.8 1491.8L457.0 1491.8L470.3 1491.8L483.5 1491.8L492.9 1491.8L483.5 1469.4L470.3 1446.3L457.0 1454.5L443.8 1448.7L431.8 1441.2L443.8 1434.2L457.0 1430.4L470.3 1439.0L483.5 1428.9L496.7 1428.9L509.9 1434.0L523.2 1431.0L536.4 1433.0L549.6 1435.9L562.9 1435.3L576.1 1438.1L589.3 1439.8L591.9 1441.2L602.5 1469.1L615.8 1482.3L629.0 1482.3L642.2 1487.5L649.4 1491.8L655.5 1491.8L660.2 1491.8L668.7 1488.0L681.9 1486.7L695.1 1488.7L701.2 1491.8L708.4 1491.8L721.6 1491.8L734.8 1491.8L748.1 1491.8L761.3 1491.8L774.5 1491.8L787.7 1491.8L801.0 1491.8L814.2 1491.8L827.4 1491.8L840.7 1491.8L853.9 1491.8L867.1 1491.8L880.3 1491.8L893.6 1491.8L906.8 1491.8L906.8 1441.2L906.8 1390.6L906.8 1340.0L906.8 1289.4L906.8 1238.8L906.8 1188.3L906.8 1137.7L906.8 1087.1L906.8 1036.5L906.8 985.9L906.8 935.3L893.6 935.3L880.3 935.3L867.1 935.3L853.9 935.3L840.7 935.3L827.4 935.3L814.2 935.3L801.0 935.3L787.7 935.3L774.5 935.3L761.3 935.3L748.1 935.3L734.8 935.3L724.9 935.3L721.6 941.9L708.4 943.0L695.1 944.0L681.9 946.7L668.7 951.8L655.5 953.5L642.2 955.5L629.0 951.6L615.8 948.1L602.5 949.2L589.3 940.2L585.1 935.3L576.1 935.3L562.9 935.3L549.6 935.3L536.4 935.3L523.2 935.3L509.9 935.3L496.7 935.3L483.5 935.3L470.3 935.3L457.0 935.3L443.8 935.3L430.6 935.3L417.3 935.3L404.1 935.3L390.9 935.3L377.7 935.3L364.4 935.3L351.2 935.3L351.2 985.9L351.2 1036.5L351.2 1087.1L351.2 1137.7L351.2 1188.3L351.2 1238.8L351.2 1289.4L351.2 1340.0L351.2 1390.6L351.2 1441.2ZM404.1 1443.9L392.6 1441.2L404.1 1437.3L410.5 1441.2ZM655.5 1195.4L647.3 1188.3L655.5 1177.0L668.7 1174.8L681.9 1174.2L695.1 1178.7L708.4 1187.7L709.6 1188.3L708.4 1188.6L695.1 1194.7L681.9 1195.7L668.7 1194.9ZM734.8 1190.2L730.5 1188.3L734.8 1186.1L748.1 1177.9L761.3 1181.9L768.6 1188.3L761.3 1194.0L748.1 1194.7ZM787.7 1191.8L782.2 1188.3L787.7 1183.4L801.0 1181.6L814.2 1180.2L827.4 1181.3L832.1 1188.3L827.4 1192.8L814.2 1195.4L801.0 1194.4Z" fill="#87a8ff" stroke="#87a8ff" stroke-width="0.6" stroke-linejoin="round" fill-rule="evenodd"/>
<path d="M351.2 1491.8L364.4 1491.8L377.7 1491.8L390.9 1491.8L404.1 1491.8L417.3 1491.8L430.6 1491.8L443.8 1491.8L457.0 1491.8L466.3 1491.8L457.0 1482.5L443.8 1473.7L430.6 1464.5L417.3 1461.2L404.1 1458.9L390.9 1457.4L377.7 1454.6L368.2 1441.2L377.7 1413.1L390.9 1414.1L404.1 1415.9L417.3 1425.8L430.6 1420.4L443.8 1411.1L457.0 1407.7L470.3 1416.3L483.5 1412.4L496.7 1413.9L509.9 1412.2L523.2 1414.1L536.4 1417.7L549.6 1423.4L562.9 1424.1L576.1 1426.3L589.3 1427.2L602.5 1432.1L615.8 1438.8L617.5 1441.2L629.0 1465.0L642.2 1459.0L655.5 1461.6L668.7 1470.8L681.9 1469.8L695.1 1475.1L708.4 1481.5L721.6 1490.6L722.7 1491.8L734.8 1491.8L748.1 1491.8L761.3 1491.8L774.5 1491.8L787.7 1491.8L801.0 1491.8L814.2 1491.8L827.4 1491.8L840.7 1491.8L853.9 1491.8L867.1 1491.8L880.3 1491.8L893.6 1491.8L906.8 1491.8L906.8 1441.2L906.8 1390.6L906.8 1340.0L906.8 1289.4L906.8 1238.8L906.8 1188.3L906.8 1137.7L906.8 1087.1L906.8 1036.5L906.8 985.9L906.8 935.3L893.6 935.3L880.3 935.3L867.1 935.3L853.9 935.3L840.7 935.3L827.4 935.3L814.2 935.3L801.0 935.3L787.7 935.3L774.5 935.3L765.2 935.3L761.3 941.5L752.8 935.3L748.1 935.3L743.5 935.3L734.8 948.7L721.6 962.8L708.4 964.4L695.1 964.6L681.9 959.4L668.7 963.6L655.5 961.8L642.2 964.9L629.0 960.7L615.8 957.1L602.5 956.8L589.3 952.7L576.1 938.4L573.2 935.3L562.9 935.3L549.6 935.3L536.4 935.3L523.2 935.3L509.9 935.3L496.7 935.3L483.5 935.3L470.3 935.3L457.0 935.3L443.8 935.3L430.6 935.3L417.3 935.3L404.1 935.3L390.9 935.3L377.7 935.3L364.4 935.3L351.2 935.3L351.2 985.9L351.2 1036.5L351.2 1087.1L351.2 1137.7L351.2 1188.3L351.2 1238.8L351.2 1289.4L351.2 1340.0L351.2 1388.5L352.1 1390.6L351.2 1397.0L351.2 1441.2ZM853.9 1241.6L849.7 1238.8L840.7 1222.1L827.4 1219.0L814.2 1219.3L801.0 1215.4L787.7 1210.0L774.5 1209.4L761.3 1211.1L748.1 1207.4L734.8 1204.2L721.6 1198.2L708.4 1202.0L695.1 1204.2L681.9 1204.6L668.7 1203.4L655.5 1204.8L642.2 1194.7L629.0 1198.9L615.9 1188.3L629.0 1161.6L642.2 1170.5L655.5 1162.3L668.7 1157.4L681.9 1157.6L695.1 1164.3L708.4 1168.2L721.6 1171.3L734.8 1170.0L748.1 1157.5L761.3 1162.9L774.5 1169.0L787.7 1158.5L801.0 1158.7L814.2 1153.3L827.4 1141.1L839.8 1137.7L840.7 1137.5L840.8 1137.7L853.9 1164.2L867.1 1174.4L880.3 1181.0L893.6 1179.1L904.2 1188.3L893.6 1199.6L880.3 1198.1L867.1 1220.8L859.4 1238.8ZM734.8 1038.9L733.0 1036.5L734.8 1019.9L748.1 1029.4L749.8 1036.5L748.1 1038.1Z" fill="#b2cbff" stroke="#b2cbff" stroke-width="0.6" stroke-linejoin="round" fill-rule="evenodd"/>
<path d="M351.2 1491.8L364.4 1491.8L377.7 1491.8L390.9 1491.8L404.1 1491.8L417.3 1491.8L430.6 1491.8L434.9 1491.8L430.6 1488.6L417.3 1486.1L404.1 1473.8L390.9 1474.1L377.7 1470.2L364.4 1457.6L351.2 1477.5ZM625.8 1441.2L629.0 1447.8L635.6 1441.2L642.2 1436.3L655.5 1434.5L660.3 1441.2L668.7 1453.6L681.9 1453.0L695.1 1461.6L708.4 1467.3L721.6 1475.2L734.8 1488.2L740.4 1491.8L748.1 1491.8L761.3 1491.8L774.5 1491.8L787.7 1491.8L801.0 1491.8L814.2 1491.8L827.4 1491.8L840.7 1491.8L853.9 1491.8L867.1 1491.8L880.3 1491.8L893.6 1491.8L906.8 1491.8L906.8 1441.2L906.8 1390.6L906.8 1340.0L906.8 1289.4L906.8 1238.8L906.8 1231.8L893.6 1238.0L892.7 1238.8L880.3 1252.0L867.1 1257.8L853.9 1259.8L840.7 1255.5L827.4 1245.0L814.2 1242.9L806.2 1238.8L801.0 1236.4L787.7 1228.3L774.5 1238.3L761.3 1228.1L748.1 1220.0L734.8 1218.3L721.6 1212.1L708.4 1215.4L695.1 1213.8L681.9 1213.4L668.7 1211.9L655.5 1214.1L642.2 1207.0L629.0 1213.2L615.8 1204.5L602.5 1195.2L589.3 1191.1L576.1 1190.4L573.1 1188.3L576.1 1184.5L589.3 1173.8L602.5 1151.3L607.2 1137.7L615.8 1131.1L629.0 1130.6L642.2 1136.8L642.9 1137.7L655.5 1147.6L668.7 1140.1L681.9 1141.0L695.1 1150.0L708.4 1148.6L721.6 1147.7L734.8 1153.9L747.7 1137.7L748.1 1131.4L749.0 1137.7L761.3 1143.9L774.5 1142.5L781.6 1137.7L787.7 1123.4L801.0 1128.7L814.2 1112.5L827.4 1108.9L840.7 1115.0L853.9 1128.8L865.7 1137.7L867.1 1138.5L878.3 1137.7L880.3 1137.4L880.5 1137.7L893.6 1148.3L906.8 1152.0L906.8 1137.7L906.8 1087.1L906.8 1036.5L906.8 985.9L906.8 935.3L893.6 935.3L880.3 935.3L867.1 935.3L853.9 935.3L840.7 935.3L827.4 935.3L814.2 935.3L802.4 935.3L814.2 961.4L819.1 985.9L814.2 1036.3L801.0 1016.5L795.4 1036.5L787.7 1063.5L774.5 1067.7L761.3 1075.3L748.1 1079.8L734.8 1072.5L721.6 1064.9L708.4 1052.4L695.1 1040.2L692.9 1036.5L695.1 997.7L708.4 986.4L721.6 994.1L723.0 985.9L721.6 983.7L708.4 985.8L695.1 985.2L681.9 972.1L668.7 975.3L655.5 970.1L642.2 974.4L629.0 969.8L615.8 966.1L602.5 964.4L589.3 965.2L576.1 958.1L562.9 941.7L549.6 942.3L536.4 940.4L531.3 935.3L523.2 935.3L509.9 935.3L496.7 935.3L483.5 935.3L470.3 935.3L457.0 935.3L443.8 935.3L430.6 935.3L417.3 935.3L404.1 935.3L390.9 935.3L377.7 935.3L364.4 935.3L351.2 935.3L351.2 985.9L351.2 1036.5L351.2 1087.1L351.2 1137.7L351.2 1188.3L351.2 1238.3L364.4 1227.9L377.7 1227.2L390.9 1218.8L404.1 1233.9L412.7 1238.8L404.1 1243.1L390.9 1255.4L377.7 1251.3L364.4 1251.0L351.2 1239.7L351.2 1289.4L351.2 1340.0L351.2 1368.0L360.4 1390.6L364.4 1412.2L372.5 1390.6L377.7 1381.6L390.9 1384.3L397.1 1390.6L404.1 1394.4L417.3 1406.6L430.6 1398.9L440.7 1390.6L443.8 1376.7L454.6 1340.0L457.0 1337.4L460.6 1340.0L465.7 1390.6L470.3 1393.6L483.5 1395.9L496.7 1399.0L509.6 1390.6L509.9 1390.1L510.5 1390.6L523.2 1397.2L536.4 1402.3L549.6 1410.8L562.9 1413.0L576.1 1414.5L589.3 1414.6L602.5 1414.9L615.8 1427.2Z" fill="#d5e8ff" stroke="#d5e8ff" stroke-width="0.6" stroke-linejoin="round" fill-rule="evenodd"/>
<path d="M360.5 1491.8L364.4 1491.8L377.7 1491.8L390.9 1491.8L404.1 1491.8L406.9 1491.8L404.1 1488.7L390.9 1490.7L377.7 1485.8L364.4 1482.4ZM686.9 1441.2L695.1 1448.1L708.4 1453.1L721.6 1459.8L734.8 1468.5L748.1 1477.6L761.3 1485.0L773.2 1491.8L774.5 1491.8L787.7 1491.8L801.0 1491.8L814.2 1491.8L827.4 1491.8L840.7 1491.8L853.9 1491.8L867.1 1491.8L880.3 1491.8L893.6 1491.8L906.8 1491.8L906.8 1441.2L906.8 1390.6L906.8 1375.8L893.6 1346.2L891.7 1340.0L880.3 1299.3L876.7 1289.4L867.1 1282.0L853.9 1277.9L840.7 1280.5L827.4 1270.8L814.2 1265.7L801.0 1263.3L787.7 1256.0L774.5 1263.0L761.3 1249.7L755.5 1238.8L748.1 1232.7L734.8 1232.3L721.6 1226.0L708.4 1228.8L695.1 1223.4L681.9 1222.2L668.7 1220.4L655.5 1223.5L642.2 1219.4L629.0 1227.5L615.8 1220.8L602.5 1213.4L589.3 1214.4L576.1 1221.4L562.9 1229.1L549.6 1214.0L537.8 1188.3L536.4 1177.6L523.2 1152.0L521.1 1137.7L523.2 1132.8L536.4 1130.1L549.6 1129.2L562.9 1134.0L576.1 1134.6L589.3 1125.1L602.5 1121.6L615.8 1105.6L629.0 1109.0L642.2 1112.9L655.5 1128.7L668.7 1119.4L681.9 1116.0L695.1 1124.7L704.4 1087.1L695.1 1073.7L681.9 1051.1L668.7 1045.4L655.5 1041.5L651.6 1036.5L655.5 1028.6L667.3 985.9L655.5 978.4L642.2 983.8L629.0 978.9L615.8 975.1L602.5 972.0L589.3 977.6L576.1 977.7L562.9 956.2L549.6 957.0L536.4 954.7L523.2 942.0L515.2 935.3L509.9 935.3L496.7 935.3L483.5 935.3L470.3 935.3L457.0 935.3L443.8 935.3L430.6 935.3L417.3 935.3L404.1 935.3L390.9 935.3L377.7 935.3L364.4 935.3L351.2 935.3L351.2 985.9L351.2 1036.5L351.2 1087.1L351.2 1108.6L364.4 1130.4L367.3 1137.7L371.6 1188.3L377.7 1193.4L384.8 1188.3L390.9 1174.4L404.1 1170.7L407.3 1188.3L417.3 1204.4L430.6 1201.5L442.6 1238.8L441.4 1289.4L443.8 1295.4L457.0 1299.3L470.3 1303.3L483.5 1314.7L496.7 1335.2L499.1 1340.0L509.9 1353.7L523.2 1372.7L536.4 1383.0L540.2 1390.6L549.6 1398.3L562.9 1401.8L576.1 1402.7L589.3 1402.0L602.5 1397.7L615.8 1415.5L629.0 1431.3L642.2 1423.4L655.5 1418.3L668.7 1436.2L681.9 1436.3ZM351.2 1340.0L351.2 1347.5L364.4 1354.0L377.7 1352.9L390.9 1343.6L392.5 1340.0L404.1 1292.0L405.0 1289.4L404.1 1287.9L390.9 1284.6L377.7 1287.7L375.8 1289.4L364.4 1319.7L358.1 1289.4L351.2 1277.5L351.2 1289.4ZM351.2 1188.3L351.2 1216.2L362.7 1188.3L351.2 1155.0ZM734.6 1137.7L734.8 1137.8L735.0 1137.7L734.8 1136.7ZM834.8 1087.1L840.7 1092.5L852.3 1087.1L840.7 1073.4ZM880.3 1087.1L880.3 1087.1L893.6 1112.9L906.8 1113.6L906.8 1087.1L906.8 1036.5L906.8 985.9L906.8 935.3L893.6 935.3L880.3 935.3L867.1 935.3L853.9 935.3L844.6 935.3L840.7 961.6L837.6 985.9L840.7 995.2L845.3 985.9L853.9 964.9L867.1 984.7L867.7 985.9L873.4 1036.5ZM675.9 985.9L681.9 994.2L683.0 985.9L681.9 984.8Z" fill="#ffe9d7" stroke="#ffe9d7" stroke-width="0.6" stroke-linejoin="round" fill-rule="evenodd"/>
<path d="M714.2 1441.2L721.6 1444.4L734.8 1448.8L748.1 1458.6L761.3 1463.0L774.5 1470.8L787.7 1479.5L801.0 1468.1L810.8 1491.8L814.2 1491.8L824.5 1491.8L827.4 1487.7L840.7 1483.2L853.9 1486.1L859.8 1491.8L867.1 1491.8L871.1 1491.8L880.3 1474.2L893.6 1472.1L904.4 1441.2L893.6 1421.2L880.3 1402.3L878.3 1390.6L870.7 1340.0L867.1 1329.1L853.9 1312.6L840.7 1316.9L827.4 1301.4L815.9 1289.4L814.2 1288.5L808.8 1289.4L801.0 1291.2L787.7 1294.0L778.6 1289.4L774.5 1287.5L761.3 1278.9L748.1 1260.2L734.8 1257.1L721.6 1241.4L708.4 1244.6L704.6 1238.8L695.1 1233.0L681.9 1231.1L668.7 1228.9L655.5 1232.9L642.2 1231.7L632.5 1238.8L629.0 1243.3L620.2 1238.8L615.8 1237.1L602.5 1231.6L589.3 1237.7L587.9 1238.8L576.1 1246.1L562.9 1254.9L549.6 1250.3L536.4 1252.8L523.2 1254.0L515.2 1238.8L509.9 1227.5L496.7 1234.7L490.3 1238.8L496.7 1250.1L499.0 1289.4L509.9 1319.4L521.0 1340.0L523.2 1343.6L536.4 1351.6L549.6 1365.3L562.8 1390.6L562.9 1390.6L576.1 1390.9L578.7 1390.6L589.3 1386.7L602.5 1378.7L607.1 1390.6L615.8 1403.8L629.0 1415.4L642.2 1410.4L655.5 1402.0L668.7 1418.1L681.9 1420.3L695.1 1432.6L708.4 1438.8ZM351.2 1188.3L351.2 1194.0L353.6 1188.3L351.2 1181.4ZM441.3 1137.7L443.8 1185.9L457.0 1163.3L462.4 1137.7L470.3 1087.9L470.5 1087.1L470.3 1084.0L467.1 1036.5L470.3 1032.8L483.5 1034.9L485.1 1036.5L496.7 1061.7L503.7 1036.5L509.9 1027.9L523.2 1029.9L530.9 1036.5L524.2 1087.1L536.4 1100.3L549.6 1107.5L562.9 1113.3L576.1 1109.1L589.3 1107.0L602.5 1102.8L612.5 1087.1L615.8 1048.0L625.8 1036.5L622.1 985.9L615.8 984.0L602.5 979.6L593.1 985.9L589.3 1026.1L587.2 1036.5L576.1 1054.0L562.9 1046.7L554.6 1036.5L562.9 1024.6L571.3 985.9L562.9 970.7L549.6 971.7L536.4 969.1L523.2 957.5L509.9 952.7L496.7 951.1L483.5 944.5L470.3 945.0L465.8 935.3L457.0 935.3L443.8 935.3L430.6 935.3L417.3 935.3L404.1 935.3L390.9 935.3L377.7 935.3L364.4 935.3L351.2 935.3L351.2 985.9L351.2 1036.5L351.2 1038.5L352.0 1036.5L357.9 985.9L364.4 975.1L377.7 975.5L390.0 985.9L390.9 988.4L403.0 1036.5L404.1 1049.3L417.3 1064.4L422.5 1087.1L430.6 1102.6L439.5 1087.1L435.5 1036.5L438.1 985.9L443.8 975.6L448.9 985.9L451.7 1036.5L455.7 1087.1L443.8 1111.6ZM602.5 1043.4L594.5 1036.5L602.5 1029.5L610.8 1036.5ZM477.1 1137.7L483.5 1150.1L489.7 1137.7L483.5 1112.9ZM381.6 1087.1L390.9 1095.9L397.4 1087.1L390.9 1076.4ZM628.4 1087.1L629.0 1087.4L642.2 1089.0L655.5 1101.0L668.7 1098.1L681.9 1089.0L683.3 1087.1L681.9 1084.6L668.7 1072.8L655.5 1071.8L642.2 1080.9L629.0 1070.0ZM900.0 1036.5L906.8 1057.2L906.8 1036.5L906.8 1018.3Z" fill="#ffcdb4" stroke="#ffcdb4" stroke-width="0.6" stroke-linejoin="round" fill-rule="evenodd"/>
<path d="M441.3 1137.7L443.8 1137.7L443.8 1111.6L439.5 1087.1L430.6 1087.1L430.6 1102.6ZM477.1 1137.7L483.5 1137.7L483.5 1112.9L470.5 1087.1L470.3 1087.1L470.3 1087.9ZM390.9 1087.1L397.4 1087.1L404.1 1049.3L404.1 1036.5L403.0 1036.5L390.9 1076.4ZM628.4 1087.1L629.0 1087.1L629.0 1070.0L625.8 1036.5L615.8 1036.5L615.8 1048.0Z" fill="#ffcdb4" stroke="#ffcdb4" stroke-width="0.6" stroke-linejoin="round"/>
<path d="M761.8 1441.2L774.5 1449.1L787.7 1454.1L797.1 1441.2L801.0 1435.4L814.2 1439.9L827.4 1430.0L840.7 1431.0L848.9 1390.6L840.7 1371.2L827.4 1345.7L816.8 1340.0L814.2 1338.7L801.0 1319.8L787.7 1320.2L774.5 1313.1L761.3 1312.0L748.1 1302.6L734.8 1293.6L733.6 1289.4L721.6 1274.1L708.4 1268.2L695.1 1257.7L681.9 1255.3L676.4 1238.8L668.7 1237.4L664.5 1238.8L655.5 1246.6L642.2 1249.9L629.0 1264.8L615.8 1256.3L602.5 1250.7L589.3 1254.2L576.1 1262.7L562.9 1274.6L549.6 1275.9L538.0 1289.4L549.6 1312.9L562.9 1327.5L569.9 1340.0L576.1 1349.3L589.3 1347.8L602.5 1358.5L614.8 1390.6L615.8 1392.1L629.0 1399.5L642.2 1397.5L650.7 1390.6L655.5 1384.1L660.3 1390.6L668.7 1400.1L681.9 1404.4L695.1 1415.0L708.4 1424.1L721.6 1428.1L734.8 1431.1L748.1 1439.6L761.3 1440.9ZM552.1 1087.1L562.9 1092.7L571.6 1087.1L562.9 1078.5ZM583.6 1087.1L589.3 1089.0L594.6 1087.1L589.3 1081.9ZM478.1 985.9L483.5 997.4L496.7 1004.0L509.9 996.9L523.2 1005.9L536.4 994.5L547.5 985.9L536.4 983.5L523.2 973.0L509.9 977.2L496.7 976.3L483.5 976.2ZM554.8 985.9L562.9 987.7L563.3 985.9L562.9 985.2ZM367.2 935.3L377.7 947.4L390.9 957.3L404.1 952.6L413.8 935.3L404.1 935.3L390.9 935.3L377.7 935.3Z" fill="#ffaa82" stroke="#ffaa82" stroke-width="0.6" stroke-linejoin="round" fill-rule="evenodd"/>
<path d="M685.4 1390.6L695.1 1397.5L708.4 1409.4L721.6 1411.5L734.8 1414.7L748.1 1420.3L761.3 1419.1L774.5 1419.0L787.7 1414.7L801.0 1407.1L814.2 1400.4L822.4 1390.6L814.2 1380.4L801.0 1357.1L787.7 1357.7L776.8 1340.0L774.5 1338.7L771.9 1340.0L761.3 1346.9L748.1 1344.9L734.8 1351.8L721.6 1340.8L721.1 1340.0L708.4 1298.6L695.1 1302.1L681.9 1307.2L668.7 1301.8L665.1 1289.4L655.5 1267.8L642.2 1276.1L629.0 1286.3L615.8 1275.8L602.5 1270.2L589.3 1270.4L576.1 1279.3L566.6 1289.4L576.1 1311.6L589.3 1319.5L602.5 1336.0L604.4 1340.0L615.8 1359.0L629.0 1371.7L642.2 1374.7L655.5 1362.3L668.7 1376.2L681.9 1385.9Z" fill="#ff7841" stroke="#ff7841" stroke-width="0.6" stroke-linejoin="round" fill-rule="evenodd"/>
<path d="M704.2 1390.6L708.4 1394.7L721.6 1394.9L734.8 1398.3L748.1 1401.0L761.3 1397.4L769.6 1390.6L761.3 1380.3L748.1 1374.6L734.8 1378.2L721.6 1380.4L708.4 1373.7ZM641.3 1340.0L642.2 1340.7L655.5 1340.6L668.7 1345.9L681.9 1352.7L695.1 1342.9L696.0 1340.0L695.1 1338.7L681.9 1331.0L668.7 1333.8L655.6 1289.4L655.5 1289.0L655.0 1289.4L642.2 1338.1ZM585.2 1289.4L589.3 1293.9L601.6 1289.4L589.3 1286.6Z" fill="#ff5019" stroke="#ff5019" stroke-width="0.6" stroke-linejoin="round" fill-rule="evenodd"/>
<path d="M704.2 1390.6L708.4 1390.6L708.4 1373.7L696.0 1340.0L695.1 1340.0L695.1 1342.9Z" fill="#ff5019" stroke="#ff5019" stroke-width="0.6" stroke-linejoin="round"/>
</g>
<rect x="351.20" y="935.30" width="555.60" height="556.50" fill="none" stroke="#000" stroke-width="2.30"/>
<path transform="translate(317.80 1501.10)" d="M-34.20 -17.75L-34.20 -4.22L-35.10 -1.69L-36.00 -0.84L-37.80 0.00L-39.60 0.00L-41.40 -0.84L-42.30 -1.69L-43.20 -4.22L-43.20 -5.92M-17.10 -11.83L-17.10 0.00M-17.10 -9.29L-18.90 -10.98L-20.70 -11.83L-23.40 -11.83L-25.20 -10.98L-27.00 -9.29L-27.90 -6.76L-27.90 -5.07L-27.00 -2.54L-25.20 -0.84L-23.40 0.00L-20.70 0.00L-18.90 -0.84L-17.10 -2.54M-9.90 -11.83L-9.90 0.00M-9.90 -8.45L-7.20 -10.98L-5.40 -11.83L-2.70 -11.83L-0.90 -10.98L0.00 -8.45L0.00 0.00" fill="none" stroke="#000" stroke-width="1.60" stroke-linecap="round" stroke-linejoin="round"/>
<path transform="translate(317.80 1450.51)" d="M-43.20 -17.75L-43.20 0.00M-43.20 -17.75L-31.50 -17.75M-43.20 -9.29L-36.00 -9.29M-27.90 -6.76L-17.10 -6.76L-17.10 -8.45L-18.00 -10.14L-18.90 -10.98L-20.70 -11.83L-23.40 -11.83L-25.20 -10.98L-27.00 -9.29L-27.90 -6.76L-27.90 -5.07L-27.00 -2.54L-25.20 -0.84L-23.40 0.00L-20.70 0.00L-18.90 -0.84L-17.10 -2.54M-10.80 -17.75L-10.80 0.00M-10.80 -9.29L-9.00 -10.98L-7.20 -11.83L-4.50 -11.83L-2.70 -10.98L-0.90 -9.29L0.00 -6.76L0.00 -5.07L-0.90 -2.54L-2.70 -0.84L-4.50 0.00L-7.20 0.00L-9.00 -0.84L-10.80 -2.54" fill="none" stroke="#000" stroke-width="1.60" stroke-linecap="round" stroke-linejoin="round"/>
<path transform="translate(317.80 1399.92)" d="M-45.90 -17.75L-45.90 0.00M-45.90 -17.75L-38.70 0.00M-31.50 -17.75L-38.70 0.00M-31.50 -17.75L-31.50 0.00M-14.40 -11.83L-14.40 0.00M-14.40 -9.29L-16.20 -10.98L-18.00 -11.83L-20.70 -11.83L-22.50 -10.98L-24.30 -9.29L-25.20 -6.76L-25.20 -5.07L-24.30 -2.54L-22.50 -0.84L-20.70 0.00L-18.00 0.00L-16.20 -0.84L-14.40 -2.54M-7.20 -11.83L-7.20 0.00M-7.20 -6.76L-6.30 -9.29L-4.50 -10.98L-2.70 -11.83L0.00 -11.83" fill="none" stroke="#000" stroke-width="1.60" stroke-linecap="round" stroke-linejoin="round"/>
<path transform="translate(317.80 1349.33)" d="M-36.00 -17.75L-43.20 0.00M-36.00 -17.75L-28.80 0.00M-40.50 -5.92L-31.50 -5.92M-24.30 -11.83L-24.30 5.92M-24.30 -9.29L-22.50 -10.98L-20.70 -11.83L-18.00 -11.83L-16.20 -10.98L-14.40 -9.29L-13.50 -6.76L-13.50 -5.07L-14.40 -2.54L-16.20 -0.84L-18.00 0.00L-20.70 0.00L-22.50 -0.84L-24.30 -2.54M-7.20 -11.83L-7.20 0.00M-7.20 -6.76L-6.30 -9.29L-4.50 -10.98L-2.70 -11.83L0.00 -11.83" fill="none" stroke="#000" stroke-width="1.60" stroke-linecap="round" stroke-linejoin="round"/>
<path transform="translate(317.80 1298.74)" d="M-47.70 -17.75L-47.70 0.00M-47.70 -17.75L-40.50 0.00M-33.30 -17.75L-40.50 0.00M-33.30 -17.75L-33.30 0.00M-16.20 -11.83L-16.20 0.00M-16.20 -9.29L-18.00 -10.98L-19.80 -11.83L-22.50 -11.83L-24.30 -10.98L-26.10 -9.29L-27.00 -6.76L-27.00 -5.07L-26.10 -2.54L-24.30 -0.84L-22.50 0.00L-19.80 0.00L-18.00 -0.84L-16.20 -2.54M-10.80 -11.83L-5.40 0.00M0.00 -11.83L-5.40 0.00L-7.20 3.38L-9.00 5.07L-10.80 5.92L-11.70 5.92" fill="none" stroke="#000" stroke-width="1.60" stroke-linecap="round" stroke-linejoin="round"/>
<path transform="translate(317.80 1248.15)" d="M-34.20 -17.75L-34.20 -4.22L-35.10 -1.69L-36.00 -0.84L-37.80 0.00L-39.60 0.00L-41.40 -0.84L-42.30 -1.69L-43.20 -4.22L-43.20 -5.92M-27.00 -11.83L-27.00 -3.38L-26.10 -0.84L-24.30 0.00L-21.60 0.00L-19.80 -0.84L-17.10 -3.38M-17.10 -11.83L-17.10 0.00M-9.90 -11.83L-9.90 0.00M-9.90 -8.45L-7.20 -10.98L-5.40 -11.83L-2.70 -11.83L-0.90 -10.98L0.00 -8.45L0.00 0.00" fill="none" stroke="#000" stroke-width="1.60" stroke-linecap="round" stroke-linejoin="round"/>
<path transform="translate(317.80 1197.55)" d="M-24.30 -17.75L-24.30 -4.22L-25.20 -1.69L-26.10 -0.84L-27.90 0.00L-29.70 0.00L-31.50 -0.84L-32.40 -1.69L-33.30 -4.22L-33.30 -5.92M-17.10 -11.83L-17.10 -3.38L-16.20 -0.84L-14.40 0.00L-11.70 0.00L-9.90 -0.84L-7.20 -3.38M-7.20 -11.83L-7.20 0.00M0.00 -17.75L0.00 0.00" fill="none" stroke="#000" stroke-width="1.60" stroke-linecap="round" stroke-linejoin="round"/>
<path transform="translate(317.80 1146.96)" d="M-38.70 -17.75L-45.90 0.00M-38.70 -17.75L-31.50 0.00M-43.20 -5.92L-34.20 -5.92M-27.00 -11.83L-27.00 -3.38L-26.10 -0.84L-24.30 0.00L-21.60 0.00L-19.80 -0.84L-17.10 -3.38M-17.10 -11.83L-17.10 0.00M0.00 -11.83L0.00 1.69L-0.90 4.22L-1.80 5.07L-3.60 5.92L-6.30 5.92L-8.10 5.07M0.00 -9.29L-1.80 -10.98L-3.60 -11.83L-6.30 -11.83L-8.10 -10.98L-9.90 -9.29L-10.80 -6.76L-10.80 -5.07L-9.90 -2.54L-8.10 -0.84L-6.30 0.00L-3.60 0.00L-1.80 -0.84L0.00 -2.54" fill="none" stroke="#000" stroke-width="1.60" stroke-linecap="round" stroke-linejoin="round"/>
<path transform="translate(317.80 1096.37)" d="M-33.30 -15.21L-35.10 -16.90L-37.80 -17.75L-41.40 -17.75L-44.10 -16.90L-45.90 -15.21L-45.90 -13.52L-45.00 -11.83L-44.10 -10.98L-42.30 -10.14L-36.90 -8.45L-35.10 -7.60L-34.20 -6.76L-33.30 -5.07L-33.30 -2.54L-35.10 -0.84L-37.80 0.00L-41.40 0.00L-44.10 -0.84L-45.90 -2.54M-27.90 -6.76L-17.10 -6.76L-17.10 -8.45L-18.00 -10.14L-18.90 -10.98L-20.70 -11.83L-23.40 -11.83L-25.20 -10.98L-27.00 -9.29L-27.90 -6.76L-27.90 -5.07L-27.00 -2.54L-25.20 -0.84L-23.40 0.00L-20.70 0.00L-18.90 -0.84L-17.10 -2.54M-10.80 -11.83L-10.80 5.92M-10.80 -9.29L-9.00 -10.98L-7.20 -11.83L-4.50 -11.83L-2.70 -10.98L-0.90 -9.29L-0.00 -6.76L-0.00 -5.07L-0.90 -2.54L-2.70 -0.84L-4.50 0.00L-7.20 0.00L-9.00 -0.84L-10.80 -2.54" fill="none" stroke="#000" stroke-width="1.60" stroke-linecap="round" stroke-linejoin="round"/>
<path transform="translate(317.80 1045.78)" d="M-36.90 -17.75L-38.70 -16.90L-40.50 -15.21L-41.40 -13.52L-42.30 -10.98L-42.30 -6.76L-41.40 -4.22L-40.50 -2.54L-38.70 -0.84L-36.90 0.00L-33.30 0.00L-31.50 -0.84L-29.70 -2.54L-28.80 -4.22L-27.90 -6.76L-27.90 -10.98L-28.80 -13.52L-29.70 -15.21L-31.50 -16.90L-33.30 -17.75L-36.90 -17.75M-11.70 -9.29L-13.50 -10.98L-15.30 -11.83L-18.00 -11.83L-19.80 -10.98L-21.60 -9.29L-22.50 -6.76L-22.50 -5.07L-21.60 -2.54L-19.80 -0.84L-18.00 0.00L-15.30 0.00L-13.50 -0.84L-11.70 -2.54M-4.50 -17.75L-4.50 -3.38L-3.60 -0.84L-1.80 0.00L0.00 0.00M-7.20 -11.83L-0.90 -11.83" fill="none" stroke="#000" stroke-width="1.60" stroke-linecap="round" stroke-linejoin="round"/>
<path transform="translate(317.80 995.19)" d="M-45.90 -17.75L-45.90 0.00M-45.90 -17.75L-33.30 0.00M-33.30 -17.75L-33.30 0.00M-22.50 -11.83L-24.30 -10.98L-26.10 -9.29L-27.00 -6.76L-27.00 -5.07L-26.10 -2.54L-24.30 -0.84L-22.50 0.00L-19.80 0.00L-18.00 -0.84L-16.20 -2.54L-15.30 -5.07L-15.30 -6.76L-16.20 -9.29L-18.00 -10.98L-19.80 -11.83L-22.50 -11.83M-10.80 -11.83L-5.40 0.00M0.00 -11.83L-5.40 0.00" fill="none" stroke="#000" stroke-width="1.60" stroke-linecap="round" stroke-linejoin="round"/>
<path transform="translate(317.80 944.60)" d="M-45.00 -17.75L-45.00 0.00M-45.00 -17.75L-38.70 -17.75L-36.00 -16.90L-34.20 -15.21L-33.30 -13.52L-32.40 -10.98L-32.40 -6.76L-33.30 -4.22L-34.20 -2.54L-36.00 -0.84L-38.70 0.00L-45.00 0.00M-27.00 -6.76L-16.20 -6.76L-16.20 -8.45L-17.10 -10.14L-18.00 -10.98L-19.80 -11.83L-22.50 -11.83L-24.30 -10.98L-26.10 -9.29L-27.00 -6.76L-27.00 -5.07L-26.10 -2.54L-24.30 -0.84L-22.50 0.00L-19.80 0.00L-18.00 -0.84L-16.20 -2.54M-0.00 -9.29L-1.80 -10.98L-3.60 -11.83L-6.30 -11.83L-8.10 -10.98L-9.90 -9.29L-10.80 -6.76L-10.80 -5.07L-9.90 -2.54L-8.10 -0.84L-6.30 0.00L-3.60 0.00L-1.80 -0.84L-0.00 -2.54" fill="none" stroke="#000" stroke-width="1.60" stroke-linecap="round" stroke-linejoin="round"/>
<path d="M335.20 1491.80 H351.20M906.80 1491.80 H922.30M335.20 1441.21 H351.20M906.80 1441.21 H922.30M335.20 1390.62 H351.20M906.80 1390.62 H922.30M335.20 1340.03 H351.20M906.80 1340.03 H922.30M335.20 1289.44 H351.20M906.80 1289.44 H922.30M335.20 1238.85 H351.20M906.80 1238.85 H922.30M335.20 1188.25 H351.20M906.80 1188.25 H922.30M335.20 1137.66 H351.20M906.80 1137.66 H922.30M335.20 1087.07 H351.20M906.80 1087.07 H922.30M335.20 1036.48 H351.20M906.80 1036.48 H922.30M335.20 985.89 H351.20M906.80 985.89 H922.30M335.20 935.30 H351.20M906.80 935.30 H922.30M436.15 935.30 V919.80M436.15 1491.80 V1507.30M530.22 935.30 V919.80M530.22 1491.80 V1507.30M624.29 935.30 V919.80M624.29 1491.80 V1507.30M718.36 935.30 V919.80M718.36 1491.80 V1507.30M812.43 935.30 V919.80M812.43 1491.80 V1507.30M906.80 935.30 V919.80M906.80 1491.80 V1507.30" stroke="#000" stroke-width="2.50" fill="none"/>
<path d="M389.12 935.30 V927.30M389.12 1491.80 V1499.80M483.19 935.30 V927.30M483.19 1491.80 V1499.80M577.26 935.30 V927.30M577.26 1491.80 V1499.80M671.33 935.30 V927.30M671.33 1491.80 V1499.80M765.40 935.30 V927.30M765.40 1491.80 V1499.80M859.47 935.30 V927.30M859.47 1491.80 V1499.80" stroke="#000" stroke-width="1.5" fill="none"/>
<path transform="translate(436.15 1543.80)" d="M-31.95 -14.37L-30.15 -15.21L-27.45 -17.75L-27.45 0.00M-4.05 -17.75L-13.05 0.00M-16.65 -17.75L-4.05 -17.75M6.75 -17.75L4.05 -16.90L2.25 -14.37L1.35 -10.14L1.35 -7.60L2.25 -3.38L4.05 -0.84L6.75 0.00L8.55 0.00L11.25 -0.84L13.05 -3.38L13.95 -7.60L13.95 -10.14L13.05 -14.37L11.25 -16.90L8.55 -17.75L6.75 -17.75M20.25 -17.75L20.25 0.00M20.25 -17.75L31.95 -17.75M20.25 -9.29L27.45 -9.29M20.25 0.00L31.95 0.00" fill="none" stroke="#000" stroke-width="1.60" stroke-linecap="round" stroke-linejoin="round"/>
<path transform="translate(530.22 1543.80)" d="M-34.20 -14.37L-32.40 -15.21L-29.70 -17.75L-29.70 0.00M-6.30 -17.75L-15.30 0.00M-18.90 -17.75L-6.30 -17.75M4.50 -17.75L1.80 -16.90L0.00 -14.37L-0.90 -10.14L-0.90 -7.60L0.00 -3.38L1.80 -0.84L4.50 0.00L6.30 0.00L9.00 -0.84L10.80 -3.38L11.70 -7.60L11.70 -10.14L10.80 -14.37L9.00 -16.90L6.30 -17.75L4.50 -17.75M16.20 -17.75L20.70 0.00M25.20 -17.75L20.70 0.00M25.20 -17.75L29.70 0.00M34.20 -17.75L29.70 0.00" fill="none" stroke="#000" stroke-width="1.60" stroke-linecap="round" stroke-linejoin="round"/>
<path transform="translate(624.29 1543.80)" d="M-34.20 -14.37L-32.40 -15.21L-29.70 -17.75L-29.70 0.00M-8.10 -17.75L-17.10 -17.75L-18.00 -10.14L-17.10 -10.98L-14.40 -11.83L-11.70 -11.83L-9.00 -10.98L-7.20 -9.29L-6.30 -6.76L-6.30 -5.07L-7.20 -2.54L-9.00 -0.84L-11.70 0.00L-14.40 0.00L-17.10 -0.84L-18.00 -1.69L-18.90 -3.38M4.50 -17.75L1.80 -16.90L0.00 -14.37L-0.90 -10.14L-0.90 -7.60L0.00 -3.38L1.80 -0.84L4.50 0.00L6.30 0.00L9.00 -0.84L10.80 -3.38L11.70 -7.60L11.70 -10.14L10.80 -14.37L9.00 -16.90L6.30 -17.75L4.50 -17.75M16.20 -17.75L20.70 0.00M25.20 -17.75L20.70 0.00M25.20 -17.75L29.70 0.00M34.20 -17.75L29.70 0.00" fill="none" stroke="#000" stroke-width="1.60" stroke-linecap="round" stroke-linejoin="round"/>
<path transform="translate(718.36 1543.80)" d="M-34.20 -14.37L-32.40 -15.21L-29.70 -17.75L-29.70 0.00M-17.10 -17.75L-7.20 -17.75L-12.60 -10.98L-9.90 -10.98L-8.10 -10.14L-7.20 -9.29L-6.30 -6.76L-6.30 -5.07L-7.20 -2.54L-9.00 -0.84L-11.70 0.00L-14.40 0.00L-17.10 -0.84L-18.00 -1.69L-18.90 -3.38M4.50 -17.75L1.80 -16.90L0.00 -14.37L-0.90 -10.14L-0.90 -7.60L0.00 -3.38L1.80 -0.84L4.50 0.00L6.30 0.00L9.00 -0.84L10.80 -3.38L11.70 -7.60L11.70 -10.14L10.80 -14.37L9.00 -16.90L6.30 -17.75L4.50 -17.75M16.20 -17.75L20.70 0.00M25.20 -17.75L20.70 0.00M25.20 -17.75L29.70 0.00M34.20 -17.75L29.70 0.00" fill="none" stroke="#000" stroke-width="1.60" stroke-linecap="round" stroke-linejoin="round"/>
<path transform="translate(812.43 1543.80)" d="M-34.20 -14.37L-32.40 -15.21L-29.70 -17.75L-29.70 0.00M-16.20 -14.37L-14.40 -15.21L-11.70 -17.75L-11.70 0.00M4.50 -17.75L1.80 -16.90L0.00 -14.37L-0.90 -10.14L-0.90 -7.60L0.00 -3.38L1.80 -0.84L4.50 0.00L6.30 0.00L9.00 -0.84L10.80 -3.38L11.70 -7.60L11.70 -10.14L10.80 -14.37L9.00 -16.90L6.30 -17.75L4.50 -17.75M16.20 -17.75L20.70 0.00M25.20 -17.75L20.70 0.00M25.20 -17.75L29.70 0.00M34.20 -17.75L29.70 0.00" fill="none" stroke="#000" stroke-width="1.60" stroke-linecap="round" stroke-linejoin="round"/>
<path transform="translate(906.80 1543.80)" d="M-14.85 -11.83L-15.75 -9.29L-17.55 -7.60L-20.25 -6.76L-21.15 -6.76L-23.85 -7.60L-25.65 -9.29L-26.55 -11.83L-26.55 -12.67L-25.65 -15.21L-23.85 -16.90L-21.15 -17.75L-20.25 -17.75L-17.55 -16.90L-15.75 -15.21L-14.85 -11.83L-14.85 -7.60L-15.75 -3.38L-17.55 -0.84L-20.25 0.00L-22.05 0.00L-24.75 -0.84L-25.65 -2.54M-3.15 -17.75L-5.85 -16.90L-7.65 -14.37L-8.55 -10.14L-8.55 -7.60L-7.65 -3.38L-5.85 -0.84L-3.15 0.00L-1.35 0.00L1.35 -0.84L3.15 -3.38L4.05 -7.60L4.05 -10.14L3.15 -14.37L1.35 -16.90L-1.35 -17.75L-3.15 -17.75M8.55 -17.75L13.05 0.00M17.55 -17.75L13.05 0.00M17.55 -17.75L22.05 0.00M26.55 -17.75L22.05 0.00" fill="none" stroke="#000" stroke-width="1.60" stroke-linecap="round" stroke-linejoin="round"/>
<path transform="translate(350.30 916.70)" d="M12.40 -15.21L10.63 -16.90L7.97 -17.75L4.43 -17.75L1.77 -16.90L0.00 -15.21L0.00 -13.52L0.89 -11.83L1.77 -10.98L3.54 -10.14L8.86 -8.45L10.63 -7.60L11.52 -6.76L12.40 -5.07L12.40 -2.54L10.63 -0.84L7.97 0.00L4.43 0.00L1.77 -0.84L0.00 -2.54M18.61 -11.83L18.61 -3.38L19.49 -0.84L21.26 0.00L23.92 0.00L25.69 -0.84L28.35 -3.38M28.35 -11.83L28.35 0.00M35.44 -11.83L35.44 0.00M35.44 -6.76L36.33 -9.29L38.10 -10.98L39.87 -11.83L42.53 -11.83M52.27 -17.75L50.50 -17.75L48.73 -16.90L47.84 -14.37L47.84 0.00M45.19 -11.83L51.39 -11.83M67.34 -11.83L67.34 0.00M67.34 -9.29L65.56 -10.98L63.79 -11.83L61.13 -11.83L59.36 -10.98L57.59 -9.29L56.70 -6.76L56.70 -5.07L57.59 -2.54L59.36 -0.84L61.13 0.00L63.79 0.00L65.56 -0.84L67.34 -2.54M84.17 -9.29L82.40 -10.98L80.63 -11.83L77.97 -11.83L76.20 -10.98L74.42 -9.29L73.54 -6.76L73.54 -5.07L74.42 -2.54L76.20 -0.84L77.97 0.00L80.63 0.00L82.40 -0.84L84.17 -2.54M89.49 -6.76L100.12 -6.76L100.12 -8.45L99.23 -10.14L98.35 -10.98L96.57 -11.83L93.92 -11.83L92.14 -10.98L90.37 -9.29L89.49 -6.76L89.49 -5.07L90.37 -2.54L92.14 -0.84L93.92 0.00L96.57 0.00L98.35 -0.84L100.12 -2.54M129.36 -11.83L119.61 0.00M119.61 -11.83L129.36 -11.83M119.61 0.00L129.36 0.00M139.10 -11.83L137.33 -10.98L135.56 -9.29L134.67 -6.76L134.67 -5.07L135.56 -2.54L137.33 -0.84L139.10 0.00L141.76 0.00L143.53 -0.84L145.30 -2.54L146.19 -5.07L146.19 -6.76L145.30 -9.29L143.53 -10.98L141.76 -11.83L139.10 -11.83M152.39 -11.83L152.39 0.00M152.39 -8.45L155.05 -10.98L156.82 -11.83L159.48 -11.83L161.25 -10.98L162.14 -8.45L162.14 0.00M178.97 -11.83L178.97 0.00M178.97 -9.29L177.20 -10.98L175.43 -11.83L172.77 -11.83L171.00 -10.98L169.23 -9.29L168.34 -6.76L168.34 -5.07L169.23 -2.54L171.00 -0.84L172.77 0.00L175.43 0.00L177.20 -0.84L178.97 -2.54M186.06 -17.75L186.06 0.00M216.18 -9.29L215.30 -10.98L212.64 -11.83L209.98 -11.83L207.32 -10.98L206.44 -9.29L207.32 -7.60L209.10 -6.76L213.53 -5.92L215.30 -5.07L216.18 -3.38L216.18 -2.54L215.30 -0.84L212.64 0.00L209.98 0.00L207.32 -0.84L206.44 -2.54M223.27 -17.75L223.27 -3.38L224.16 -0.84L225.93 0.00L227.70 0.00M220.61 -11.83L226.82 -11.83M233.02 -11.83L233.02 0.00M233.02 -6.76L233.90 -9.29L235.68 -10.98L237.45 -11.83L240.11 -11.83M243.65 -6.76L254.28 -6.76L254.28 -8.45L253.40 -10.14L252.51 -10.98L250.74 -11.83L248.08 -11.83L246.31 -10.98L244.54 -9.29L243.65 -6.76L243.65 -5.07L244.54 -2.54L246.31 -0.84L248.08 0.00L250.74 0.00L252.51 -0.84L254.28 -2.54M269.34 -9.29L268.46 -10.98L265.80 -11.83L263.14 -11.83L260.48 -10.98L259.60 -9.29L260.48 -7.60L262.26 -6.76L266.69 -5.92L268.46 -5.07L269.34 -3.38L269.34 -2.54L268.46 -0.84L265.80 0.00L263.14 0.00L260.48 -0.84L259.60 -2.54M284.41 -9.29L283.52 -10.98L280.86 -11.83L278.20 -11.83L275.55 -10.98L274.66 -9.29L275.55 -7.60L277.32 -6.76L281.75 -5.92L283.52 -5.07L284.41 -3.38L284.41 -2.54L283.52 -0.84L280.86 0.00L278.20 0.00L275.55 -0.84L274.66 -2.54" fill="none" stroke="#000" stroke-width="1.60" stroke-linecap="round" stroke-linejoin="round"/>
<path transform="translate(906.20 910.70)" d="M-49.50 -11.83L-39.60 0.00M-39.60 -11.83L-49.50 0.00M-32.40 -1.69L-33.30 -0.84L-32.40 0.00L-31.50 -0.84L-32.40 -1.69M-19.80 -17.75L-22.50 -16.90L-24.30 -14.37L-25.20 -10.14L-25.20 -7.60L-24.30 -3.38L-22.50 -0.84L-19.80 0.00L-18.00 0.00L-15.30 -0.84L-13.50 -3.38L-12.60 -7.60L-12.60 -10.14L-13.50 -14.37L-15.30 -16.90L-18.00 -17.75L-19.80 -17.75M-4.50 -14.37L-2.70 -15.21L-0.00 -17.75L-0.00 0.00" fill="none" stroke="#000" stroke-width="1.60" stroke-linecap="round" stroke-linejoin="round"/>
<path transform="translate(831.00 899.10)" d="M0.54 -8.16L0.54 -8.67L1.09 -9.69L1.63 -10.20L2.72 -10.71L4.89 -10.71L5.97 -10.20L6.52 -9.69L7.06 -8.67L7.06 -7.65L6.52 -6.63L5.43 -5.10L0.00 0.00L7.60 0.00" fill="none" stroke="#000" stroke-width="1.40" stroke-linecap="round" stroke-linejoin="round"/>
<path transform="translate(828.20 910.70)" d="M-59.40 -17.75L-59.40 0.00M-59.40 -17.75L-46.80 0.00M-46.80 -17.75L-46.80 0.00M-25.20 -21.12L-41.40 5.92M-19.80 -11.83L-19.80 0.00M-19.80 -8.45L-17.10 -10.98L-15.30 -11.83L-12.60 -11.83L-10.80 -10.98L-9.90 -8.45L-9.90 0.00M-9.90 -8.45L-7.20 -10.98L-5.40 -11.83L-2.70 -11.83L-0.90 -10.98L0.00 -8.45L0.00 0.00" fill="none" stroke="#000" stroke-width="1.60" stroke-linecap="round" stroke-linejoin="round"/>
<path transform="translate(247.30 1213.85) rotate(-90)" d="M-46.75 -22.36L-46.75 0.00M-46.75 -22.36L-37.95 0.00M-29.15 -22.36L-37.95 0.00M-29.15 -22.36L-29.15 0.00M-15.95 -14.91L-18.15 -13.84L-20.35 -11.71L-21.45 -8.52L-21.45 -6.39L-20.35 -3.19L-18.15 -1.06L-15.95 0.00L-12.65 0.00L-10.45 -1.06L-8.25 -3.19L-7.15 -6.39L-7.15 -8.52L-8.25 -11.71L-10.45 -13.84L-12.65 -14.91L-15.95 -14.91M0.55 -14.91L0.55 0.00M0.55 -10.65L3.85 -13.84L6.05 -14.91L9.35 -14.91L11.55 -13.84L12.65 -10.65L12.65 0.00M22.55 -22.36L22.55 -4.26L23.65 -1.06L25.85 0.00L28.05 0.00M19.25 -14.91L26.95 -14.91M34.65 -22.36L34.65 0.00M34.65 -10.65L37.95 -13.84L40.15 -14.91L43.45 -14.91L45.65 -13.84L46.75 -10.65L46.75 0.00" fill="none" stroke="#000" stroke-width="1.80" stroke-linecap="round" stroke-linejoin="round"/>
<path transform="translate(629.00 865.20)" d="M-139.12 -19.21L-139.12 0.00M-139.12 -19.21L-126.29 -19.21M-139.12 -10.07L-131.23 -10.07M-139.12 0.00L-126.29 0.00M-120.37 -19.21L-120.37 0.00M-120.37 -19.21L-111.49 -19.21L-108.53 -18.30L-107.55 -17.39L-106.56 -15.55L-106.56 -13.73L-107.55 -11.89L-108.53 -10.98L-111.49 -10.07L-120.37 -10.07M-113.47 -10.07L-106.56 0.00M-86.83 -16.47L-88.80 -18.30L-91.76 -19.21L-95.71 -19.21L-98.67 -18.30L-100.64 -16.47L-100.64 -14.64L-99.65 -12.81L-98.67 -11.89L-96.69 -10.98L-90.77 -9.15L-88.80 -8.23L-87.81 -7.32L-86.83 -5.49L-86.83 -2.75L-88.80 -0.92L-91.76 0.00L-95.71 0.00L-98.67 -0.92L-100.64 -2.75M-57.23 -22.88L-59.20 -21.05L-61.17 -18.30L-63.15 -14.64L-64.13 -10.07L-64.13 -6.41L-63.15 -1.83L-61.17 1.83L-59.20 4.58L-57.23 6.41M-48.35 -15.55L-46.37 -16.47L-43.41 -19.21L-43.41 0.00M-18.75 -12.81L-19.73 -10.07L-21.71 -8.23L-24.67 -7.32L-25.65 -7.32L-28.61 -8.23L-30.59 -10.07L-31.57 -12.81L-31.57 -13.73L-30.59 -16.47L-28.61 -18.30L-25.65 -19.21L-24.67 -19.21L-21.71 -18.30L-19.73 -16.47L-18.75 -12.81L-18.75 -8.23L-19.73 -3.66L-21.71 -0.92L-24.67 0.00L-26.64 0.00L-29.60 -0.92L-30.59 -2.75M0.99 -12.81L0.00 -10.07L-1.97 -8.23L-4.93 -7.32L-5.92 -7.32L-8.88 -8.23L-10.85 -10.07L-11.84 -12.81L-11.84 -13.73L-10.85 -16.47L-8.88 -18.30L-5.92 -19.21L-4.93 -19.21L-1.97 -18.30L0.00 -16.47L0.99 -12.81L0.99 -8.23L0.00 -3.66L-1.97 -0.92L-4.93 0.00L-6.91 0.00L-9.87 -0.92L-10.85 -2.75M8.88 -14.64L8.88 -15.55L9.87 -17.39L10.85 -18.30L12.83 -19.21L16.77 -19.21L18.75 -18.30L19.73 -17.39L20.72 -15.55L20.72 -13.73L19.73 -11.89L17.76 -9.15L7.89 0.00L21.71 0.00M28.61 -8.23L46.37 -8.23M54.27 -14.64L54.27 -15.55L55.25 -17.39L56.24 -18.30L58.21 -19.21L62.16 -19.21L64.13 -18.30L65.12 -17.39L66.11 -15.55L66.11 -13.73L65.12 -11.89L63.15 -9.15L53.28 0.00L67.09 0.00M78.93 -19.21L75.97 -18.30L74.00 -15.55L73.01 -10.98L73.01 -8.23L74.00 -3.66L75.97 -0.92L78.93 0.00L80.91 0.00L83.87 -0.92L85.84 -3.66L86.83 -8.23L86.83 -10.98L85.84 -15.55L83.87 -18.30L80.91 -19.21L78.93 -19.21M98.67 -19.21L95.71 -18.30L93.73 -15.55L92.75 -10.98L92.75 -8.23L93.73 -3.66L95.71 -0.92L98.67 0.00L100.64 0.00L103.60 -0.92L105.57 -3.66L106.56 -8.23L106.56 -10.98L105.57 -15.55L103.60 -18.30L100.64 -19.21L98.67 -19.21M118.40 -19.21L115.44 -18.30L113.47 -15.55L112.48 -10.98L112.48 -8.23L113.47 -3.66L115.44 -0.92L118.40 0.00L120.37 0.00L123.33 -0.92L125.31 -3.66L126.29 -8.23L126.29 -10.98L125.31 -15.55L123.33 -18.30L120.37 -19.21L118.40 -19.21M132.21 -22.88L134.19 -21.05L136.16 -18.30L138.13 -14.64L139.12 -10.07L139.12 -6.41L138.13 -1.83L136.16 1.83L134.19 4.58L132.21 6.41" fill="none" stroke="#000" stroke-width="1.40" stroke-linecap="round" stroke-linejoin="round"/>
<rect x="956.6" y="1452.21" width="25" height="34.09" fill="#000087" stroke="#000" stroke-width="1.2"/>
<rect x="956.6" y="1418.11" width="25" height="34.09" fill="#0019b4" stroke="#000" stroke-width="1.2"/>
<rect x="956.6" y="1384.02" width="25" height="34.09" fill="#0028e1" stroke="#000" stroke-width="1.2"/>
<rect x="956.6" y="1349.92" width="25" height="34.09" fill="#194bff" stroke="#000" stroke-width="1.2"/>
<rect x="956.6" y="1315.83" width="25" height="34.09" fill="#4678ff" stroke="#000" stroke-width="1.2"/>
<rect x="956.6" y="1281.74" width="25" height="34.09" fill="#87a8ff" stroke="#000" stroke-width="1.2"/>
<rect x="956.6" y="1247.64" width="25" height="34.09" fill="#b2cbff" stroke="#000" stroke-width="1.2"/>
<rect x="956.6" y="1213.55" width="25" height="34.09" fill="#d5e8ff" stroke="#000" stroke-width="1.2"/>
<rect x="956.6" y="1179.46" width="25" height="34.09" fill="#ffe9d7" stroke="#000" stroke-width="1.2"/>
<rect x="956.6" y="1145.36" width="25" height="34.09" fill="#ffcdb4" stroke="#000" stroke-width="1.2"/>
<rect x="956.6" y="1111.27" width="25" height="34.09" fill="#ffaa82" stroke="#000" stroke-width="1.2"/>
<rect x="956.6" y="1077.17" width="25" height="34.09" fill="#ff7841" stroke="#000" stroke-width="1.2"/>
<rect x="956.6" y="1043.08" width="25" height="34.09" fill="#ff5019" stroke="#000" stroke-width="1.2"/>
<rect x="956.6" y="1008.99" width="25" height="34.09" fill="#e43200" stroke="#000" stroke-width="1.2"/>
<rect x="956.6" y="974.89" width="25" height="34.09" fill="#b92300" stroke="#000" stroke-width="1.2"/>
<rect x="956.6" y="940.80" width="25" height="34.09" fill="#8c0000" stroke="#000" stroke-width="1.2"/>
<path transform="translate(1022.50 1461.21)" d="M-31.05 -7.60L-14.85 -7.60M-7.65 -13.52L-7.65 -14.37L-6.75 -16.05L-5.85 -16.90L-4.05 -17.75L-0.45 -17.75L1.35 -16.90L2.25 -16.05L3.15 -14.37L3.15 -12.67L2.25 -10.98L0.45 -8.45L-8.55 0.00L4.05 0.00M11.25 -1.69L10.35 -0.84L11.25 0.00L12.15 -0.84L11.25 -1.69M22.95 -17.75L20.25 -16.90L19.35 -15.21L19.35 -13.52L20.25 -11.83L22.05 -10.98L25.65 -10.14L28.35 -9.29L30.15 -7.60L31.05 -5.92L31.05 -3.38L30.15 -1.69L29.25 -0.84L26.55 0.00L22.95 0.00L20.25 -0.84L19.35 -1.69L18.45 -3.38L18.45 -5.92L19.35 -7.60L21.15 -9.29L23.85 -10.14L27.45 -10.98L29.25 -11.83L30.15 -13.52L30.15 -15.21L29.25 -16.90L26.55 -17.75L22.95 -17.75" fill="none" stroke="#000" stroke-width="1.60" stroke-linecap="round" stroke-linejoin="round"/>
<path transform="translate(1022.50 1427.11)" d="M-31.50 -7.60L-15.30 -7.60M-8.10 -13.52L-8.10 -14.37L-7.20 -16.05L-6.30 -16.90L-4.50 -17.75L-0.90 -17.75L0.90 -16.90L1.80 -16.05L2.70 -14.37L2.70 -12.67L1.80 -10.98L0.00 -8.45L-9.00 0.00L3.60 0.00M10.80 -1.69L9.90 -0.84L10.80 0.00L11.70 -0.84L10.80 -1.69M27.00 -17.75L18.00 -5.92L31.50 -5.92M27.00 -17.75L27.00 0.00" fill="none" stroke="#000" stroke-width="1.60" stroke-linecap="round" stroke-linejoin="round"/>
<path transform="translate(1022.50 1393.02)" d="M-17.55 -7.60L-1.35 -7.60M5.85 -13.52L5.85 -14.37L6.75 -16.05L7.65 -16.90L9.45 -17.75L13.05 -17.75L14.85 -16.90L15.75 -16.05L16.65 -14.37L16.65 -12.67L15.75 -10.98L13.95 -8.45L4.95 0.00L17.55 0.00" fill="none" stroke="#000" stroke-width="1.60" stroke-linecap="round" stroke-linejoin="round"/>
<path transform="translate(1022.50 1358.92)" d="M-31.05 -7.60L-14.85 -7.60M-5.85 -14.37L-4.05 -15.21L-1.35 -17.75L-1.35 0.00M11.25 -1.69L10.35 -0.84L11.25 0.00L12.15 -0.84L11.25 -1.69M30.15 -15.21L29.25 -16.90L26.55 -17.75L24.75 -17.75L22.05 -16.90L20.25 -14.37L19.35 -10.14L19.35 -5.92L20.25 -2.54L22.05 -0.84L24.75 0.00L25.65 0.00L28.35 -0.84L30.15 -2.54L31.05 -5.07L31.05 -5.92L30.15 -8.45L28.35 -10.14L25.65 -10.98L24.75 -10.98L22.05 -10.14L20.25 -8.45L19.35 -5.92" fill="none" stroke="#000" stroke-width="1.60" stroke-linecap="round" stroke-linejoin="round"/>
<path transform="translate(1022.50 1324.83)" d="M-31.05 -7.60L-14.85 -7.60M-5.85 -14.37L-4.05 -15.21L-1.35 -17.75L-1.35 0.00M11.25 -1.69L10.35 -0.84L11.25 0.00L12.15 -0.84L11.25 -1.69M19.35 -13.52L19.35 -14.37L20.25 -16.05L21.15 -16.90L22.95 -17.75L26.55 -17.75L28.35 -16.90L29.25 -16.05L30.15 -14.37L30.15 -12.67L29.25 -10.98L27.45 -8.45L18.45 0.00L31.05 0.00" fill="none" stroke="#000" stroke-width="1.60" stroke-linecap="round" stroke-linejoin="round"/>
<path transform="translate(1022.50 1290.74)" d="M-31.05 -7.60L-14.85 -7.60M-3.15 -17.75L-5.85 -16.90L-7.65 -14.37L-8.55 -10.14L-8.55 -7.60L-7.65 -3.38L-5.85 -0.84L-3.15 0.00L-1.35 0.00L1.35 -0.84L3.15 -3.38L4.05 -7.60L4.05 -10.14L3.15 -14.37L1.35 -16.90L-1.35 -17.75L-3.15 -17.75M11.25 -1.69L10.35 -0.84L11.25 0.00L12.15 -0.84L11.25 -1.69M22.95 -17.75L20.25 -16.90L19.35 -15.21L19.35 -13.52L20.25 -11.83L22.05 -10.98L25.65 -10.14L28.35 -9.29L30.15 -7.60L31.05 -5.92L31.05 -3.38L30.15 -1.69L29.25 -0.84L26.55 0.00L22.95 0.00L20.25 -0.84L19.35 -1.69L18.45 -3.38L18.45 -5.92L19.35 -7.60L21.15 -9.29L23.85 -10.14L27.45 -10.98L29.25 -11.83L30.15 -13.52L30.15 -15.21L29.25 -16.90L26.55 -17.75L22.95 -17.75" fill="none" stroke="#000" stroke-width="1.60" stroke-linecap="round" stroke-linejoin="round"/>
<path transform="translate(1022.50 1256.64)" d="M-31.50 -7.60L-15.30 -7.60M-3.60 -17.75L-6.30 -16.90L-8.10 -14.37L-9.00 -10.14L-9.00 -7.60L-8.10 -3.38L-6.30 -0.84L-3.60 0.00L-1.80 0.00L0.90 -0.84L2.70 -3.38L3.60 -7.60L3.60 -10.14L2.70 -14.37L0.90 -16.90L-1.80 -17.75L-3.60 -17.75M10.80 -1.69L9.90 -0.84L10.80 0.00L11.70 -0.84L10.80 -1.69M27.00 -17.75L18.00 -5.92L31.50 -5.92M27.00 -17.75L27.00 0.00" fill="none" stroke="#000" stroke-width="1.60" stroke-linecap="round" stroke-linejoin="round"/>
<path transform="translate(1022.50 1222.55)" d="M-0.90 -17.75L-3.60 -16.90L-5.40 -14.37L-6.30 -10.14L-6.30 -7.60L-5.40 -3.38L-3.60 -0.84L-0.90 0.00L0.90 0.00L3.60 -0.84L5.40 -3.38L6.30 -7.60L6.30 -10.14L5.40 -14.37L3.60 -16.90L0.90 -17.75L-0.90 -17.75" fill="none" stroke="#000" stroke-width="1.60" stroke-linecap="round" stroke-linejoin="round"/>
<path transform="translate(1022.50 1188.46)" d="M-14.85 -17.75L-17.55 -16.90L-19.35 -14.37L-20.25 -10.14L-20.25 -7.60L-19.35 -3.38L-17.55 -0.84L-14.85 0.00L-13.05 0.00L-10.35 -0.84L-8.55 -3.38L-7.65 -7.60L-7.65 -10.14L-8.55 -14.37L-10.35 -16.90L-13.05 -17.75L-14.85 -17.75M-0.45 -1.69L-1.35 -0.84L-0.45 0.00L0.45 -0.84L-0.45 -1.69M15.75 -17.75L6.75 -5.92L20.25 -5.92M15.75 -17.75L15.75 0.00" fill="none" stroke="#000" stroke-width="1.60" stroke-linecap="round" stroke-linejoin="round"/>
<path transform="translate(1022.50 1154.36)" d="M-14.40 -17.75L-17.10 -16.90L-18.90 -14.37L-19.80 -10.14L-19.80 -7.60L-18.90 -3.38L-17.10 -0.84L-14.40 0.00L-12.60 0.00L-9.90 -0.84L-8.10 -3.38L-7.20 -7.60L-7.20 -10.14L-8.10 -14.37L-9.90 -16.90L-12.60 -17.75L-14.40 -17.75M0.00 -1.69L-0.90 -0.84L0.00 0.00L0.90 -0.84L0.00 -1.69M11.70 -17.75L9.00 -16.90L8.10 -15.21L8.10 -13.52L9.00 -11.83L10.80 -10.98L14.40 -10.14L17.10 -9.29L18.90 -7.60L19.80 -5.92L19.80 -3.38L18.90 -1.69L18.00 -0.84L15.30 0.00L11.70 0.00L9.00 -0.84L8.10 -1.69L7.20 -3.38L7.20 -5.92L8.10 -7.60L9.90 -9.29L12.60 -10.14L16.20 -10.98L18.00 -11.83L18.90 -13.52L18.90 -15.21L18.00 -16.90L15.30 -17.75L11.70 -17.75" fill="none" stroke="#000" stroke-width="1.60" stroke-linecap="round" stroke-linejoin="round"/>
<path transform="translate(1022.50 1120.27)" d="M-18.45 -14.37L-16.65 -15.21L-13.95 -17.75L-13.95 0.00M-1.35 -1.69L-2.25 -0.84L-1.35 0.00L-0.45 -0.84L-1.35 -1.69M6.75 -13.52L6.75 -14.37L7.65 -16.05L8.55 -16.90L10.35 -17.75L13.95 -17.75L15.75 -16.90L16.65 -16.05L17.55 -14.37L17.55 -12.67L16.65 -10.98L14.85 -8.45L5.85 0.00L18.45 0.00" fill="none" stroke="#000" stroke-width="1.60" stroke-linecap="round" stroke-linejoin="round"/>
<path transform="translate(1022.50 1086.17)" d="M-18.45 -14.37L-16.65 -15.21L-13.95 -17.75L-13.95 0.00M-1.35 -1.69L-2.25 -0.84L-1.35 0.00L-0.45 -0.84L-1.35 -1.69M17.55 -15.21L16.65 -16.90L13.95 -17.75L12.15 -17.75L9.45 -16.90L7.65 -14.37L6.75 -10.14L6.75 -5.92L7.65 -2.54L9.45 -0.84L12.15 0.00L13.05 0.00L15.75 -0.84L17.55 -2.54L18.45 -5.07L18.45 -5.92L17.55 -8.45L15.75 -10.14L13.05 -10.98L12.15 -10.98L9.45 -10.14L7.65 -8.45L6.75 -5.92" fill="none" stroke="#000" stroke-width="1.60" stroke-linecap="round" stroke-linejoin="round"/>
<path transform="translate(1022.50 1052.08)" d="M-5.40 -13.52L-5.40 -14.37L-4.50 -16.05L-3.60 -16.90L-1.80 -17.75L1.80 -17.75L3.60 -16.90L4.50 -16.05L5.40 -14.37L5.40 -12.67L4.50 -10.98L2.70 -8.45L-6.30 0.00L6.30 0.00" fill="none" stroke="#000" stroke-width="1.60" stroke-linecap="round" stroke-linejoin="round"/>
<path transform="translate(1022.50 1017.99)" d="M-19.35 -13.52L-19.35 -14.37L-18.45 -16.05L-17.55 -16.90L-15.75 -17.75L-12.15 -17.75L-10.35 -16.90L-9.45 -16.05L-8.55 -14.37L-8.55 -12.67L-9.45 -10.98L-11.25 -8.45L-20.25 0.00L-7.65 0.00M-0.45 -1.69L-1.35 -0.84L-0.45 0.00L0.45 -0.84L-0.45 -1.69M15.75 -17.75L6.75 -5.92L20.25 -5.92M15.75 -17.75L15.75 0.00" fill="none" stroke="#000" stroke-width="1.60" stroke-linecap="round" stroke-linejoin="round"/>
<path transform="translate(1022.50 983.89)" d="M-18.90 -13.52L-18.90 -14.37L-18.00 -16.05L-17.10 -16.90L-15.30 -17.75L-11.70 -17.75L-9.90 -16.90L-9.00 -16.05L-8.10 -14.37L-8.10 -12.67L-9.00 -10.98L-10.80 -8.45L-19.80 0.00L-7.20 0.00M0.00 -1.69L-0.90 -0.84L0.00 0.00L0.90 -0.84L0.00 -1.69M11.70 -17.75L9.00 -16.90L8.10 -15.21L8.10 -13.52L9.00 -11.83L10.80 -10.98L14.40 -10.14L17.10 -9.29L18.90 -7.60L19.80 -5.92L19.80 -3.38L18.90 -1.69L18.00 -0.84L15.30 0.00L11.70 0.00L9.00 -0.84L8.10 -1.69L7.20 -3.38L7.20 -5.92L8.10 -7.60L9.90 -9.29L12.60 -10.14L16.20 -10.98L18.00 -11.83L18.90 -13.52L18.90 -15.21L18.00 -16.90L15.30 -17.75L11.70 -17.75" fill="none" stroke="#000" stroke-width="1.60" stroke-linecap="round" stroke-linejoin="round"/>
</svg></body></html>
